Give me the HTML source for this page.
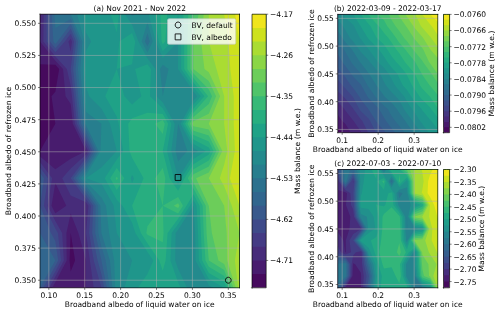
<!DOCTYPE html>
<html><head><meta charset="utf-8"><title>figure</title>
<style>html,body{margin:0;padding:0;background:#fff}svg{display:block}</style></head>
<body>
<svg width="500" height="314" viewBox="0 0 666.6667 406.4725" preserveAspectRatio="none">
 
 <defs>
  <style type="text/css">*{stroke-linejoin: round; stroke-linecap: butt}</style>
 </defs>
 <g id="figure_1">
  <g id="patch_1">
   <path d="M 0 406.472492 
L 666.666667 406.472492 
L 666.666667 0 
L 0 0 
z
" style="fill: #ffffff"/>
  </g>
  <g id="axes_1">
   <g id="patch_2">
    <path d="M 53.333333 372.556634 
L 319.333333 372.556634 
L 319.333333 18.381877 
L 53.333333 18.381877 
z
" style="fill: #ffffff"/>
   </g>
   <g id="patch_3">
    <path d="M 53.333333 372.556634 
L 319.333333 372.556634 
L 319.333333 18.381877 
L 53.333333 18.381877 
z
" clip-path="url(#p54d6a485ec)" style="fill: #460a5d"/>
   </g>
   <g id="QuadContourSet_1">
    <path d="M 73.794872 18.381877 
L 94.25641 18.381877 
L 114.717949 18.381877 
L 135.179487 18.381877 
L 155.641026 18.381877 
L 176.102564 18.381877 
L 196.564103 18.381877 
L 217.025641 18.381877 
L 237.487179 18.381877 
L 257.948718 18.381877 
L 278.410256 18.381877 
L 298.871795 18.381877 
L 319.333333 18.381877 
L 319.333333 53.799353 
L 319.333333 89.216828 
L 319.333333 124.634304 
L 319.333333 160.05178 
L 319.333333 195.469256 
L 319.333333 230.886731 
L 319.333333 266.304207 
L 319.333333 301.721683 
L 319.333333 337.139159 
L 319.333333 372.556634 
L 298.871795 372.556634 
L 278.410256 372.556634 
L 257.948718 372.556634 
L 237.487179 372.556634 
L 217.025641 372.556634 
L 196.564103 372.556634 
L 176.102564 372.556634 
L 155.641026 372.556634 
L 135.179487 372.556634 
L 114.717949 372.556634 
L 94.25641 372.556634 
L 73.794872 372.556634 
L 53.333333 372.556634 
L 53.333333 337.139159 
L 53.333333 301.721683 
L 53.333333 266.304207 
L 53.333333 230.886731 
L 53.333333 195.469256 
L 53.333333 195.469256 
L 73.794872 160.05178 
L 68.679487 124.634304 
L 73.794872 118.731391 
L 78.910256 89.216828 
L 73.794872 83.850544 
L 53.333333 83.313916 
L 53.333333 53.799353 
L 53.333333 18.381877 
z
M 92.740741 337.139159 
L 94.25641 351.306149 
L 100.102564 337.139159 
L 94.25641 301.721683 
z
" clip-path="url(#p54d6a485ec)" style="fill: #481c6e"/>
   </g>
   <g id="QuadContourSet_2">
    <path d="M 73.794872 18.381877 
L 94.25641 18.381877 
L 114.717949 18.381877 
L 135.179487 18.381877 
L 155.641026 18.381877 
L 176.102564 18.381877 
L 196.564103 18.381877 
L 217.025641 18.381877 
L 237.487179 18.381877 
L 257.948718 18.381877 
L 278.410256 18.381877 
L 298.871795 18.381877 
L 319.333333 18.381877 
L 319.333333 53.799353 
L 319.333333 89.216828 
L 319.333333 124.634304 
L 319.333333 160.05178 
L 319.333333 195.469256 
L 319.333333 230.886731 
L 319.333333 266.304207 
L 319.333333 301.721683 
L 319.333333 337.139159 
L 319.333333 372.556634 
L 298.871795 372.556634 
L 278.410256 372.556634 
L 257.948718 372.556634 
L 237.487179 372.556634 
L 217.025641 372.556634 
L 196.564103 372.556634 
L 176.102564 372.556634 
L 155.641026 372.556634 
L 135.179487 372.556634 
L 114.717949 372.556634 
L 114.717949 337.139159 
L 114.717949 337.139159 
L 104.487179 301.721683 
L 94.25641 276.423486 
L 88.57265 301.721683 
L 88.951567 337.139159 
L 73.794872 365.473139 
L 69.702564 372.556634 
L 53.333333 372.556634 
L 53.333333 337.139159 
L 53.333333 301.721683 
L 53.333333 266.304207 
L 53.333333 230.886731 
L 53.333333 202.552751 
L 73.794872 219.080906 
L 94.25641 205.588534 
L 114.717949 195.469256 
L 114.717949 195.469256 
L 114.717949 195.469256 
L 97.021483 160.05178 
L 94.25641 134.753583 
L 87.435897 124.634304 
L 84.025641 89.216828 
L 73.794872 78.48426 
L 53.333333 53.799353 
L 54.744474 18.381877 
z
M 68.679487 266.304207 
L 73.794872 276.142395 
L 88.410256 266.304207 
L 73.794872 236.789644 
z
M 114.717949 266.304207 
L 114.717949 266.304207 
L 114.717949 266.304207 
L 114.717949 266.304207 
z
" clip-path="url(#p54d6a485ec)" style="fill: #472c7a"/>
   </g>
   <g id="QuadContourSet_3">
    <path d="M 73.794872 18.381877 
L 94.25641 18.381877 
L 114.717949 18.381877 
L 135.179487 18.381877 
L 155.641026 18.381877 
L 176.102564 18.381877 
L 196.564103 18.381877 
L 217.025641 18.381877 
L 237.487179 18.381877 
L 257.948718 18.381877 
L 278.410256 18.381877 
L 298.871795 18.381877 
L 319.333333 18.381877 
L 319.333333 53.799353 
L 319.333333 89.216828 
L 319.333333 124.634304 
L 319.333333 160.05178 
L 319.333333 195.469256 
L 319.333333 230.886731 
L 319.333333 266.304207 
L 319.333333 301.721683 
L 319.333333 337.139159 
L 319.333333 372.556634 
L 298.871795 372.556634 
L 278.410256 372.556634 
L 257.948718 372.556634 
L 237.487179 372.556634 
L 217.025641 372.556634 
L 196.564103 372.556634 
L 176.102564 372.556634 
L 155.641026 372.556634 
L 135.179487 372.556634 
L 124.948718 372.556634 
L 119.833333 337.139159 
L 114.717949 301.721683 
L 117.915064 266.304207 
L 114.717949 261.877023 
L 94.25641 253.022654 
L 82.888889 230.886731 
L 94.25641 218.237633 
L 114.717949 199.89644 
L 117.483021 195.469256 
L 114.717949 189.935275 
L 99.786556 160.05178 
L 95.915454 124.634304 
L 94.25641 111.352751 
L 89.141026 89.216828 
L 73.794872 73.117976 
L 57.781494 53.799353 
L 58.272325 18.381877 
z
M 91.333333 53.799353 
L 94.25641 67.080906 
L 95.915454 53.799353 
L 94.25641 50.004623 
z
M 69.487179 230.886731 
L 63.564103 266.304207 
L 73.794872 285.980583 
L 82.888889 301.721683 
L 85.162393 337.139159 
L 73.794872 358.389644 
L 65.610256 372.556634 
L 53.333333 372.556634 
L 53.333333 337.139159 
L 53.333333 301.721683 
L 53.333333 266.304207 
L 53.333333 230.886731 
L 53.333333 209.636246 
z
" clip-path="url(#p54d6a485ec)" style="fill: #443b84"/>
   </g>
   <g id="QuadContourSet_4">
    <path d="M 73.794872 18.381877 
L 94.25641 18.381877 
L 114.717949 18.381877 
L 135.179487 18.381877 
L 155.641026 18.381877 
L 176.102564 18.381877 
L 196.564103 18.381877 
L 217.025641 18.381877 
L 237.487179 18.381877 
L 257.948718 18.381877 
L 278.410256 18.381877 
L 298.871795 18.381877 
L 319.333333 18.381877 
L 319.333333 53.799353 
L 319.333333 89.216828 
L 319.333333 124.634304 
L 319.333333 160.05178 
L 319.333333 195.469256 
L 319.333333 230.886731 
L 319.333333 266.304207 
L 319.333333 301.721683 
L 319.333333 337.139159 
L 319.333333 372.556634 
L 298.871795 372.556634 
L 278.410256 372.556634 
L 257.948718 372.556634 
L 237.487179 372.556634 
L 217.025641 372.556634 
L 196.564103 372.556634 
L 176.102564 372.556634 
L 155.641026 372.556634 
L 135.179487 372.556634 
L 135.179487 372.556634 
L 124.948718 337.139159 
L 118.810256 301.721683 
L 121.112179 266.304207 
L 114.717949 257.449838 
L 94.25641 230.886731 
L 94.25641 230.886731 
L 94.25641 230.886731 
L 114.717949 204.323625 
L 120.248094 195.469256 
L 114.717949 184.401294 
L 102.551629 160.05178 
L 98.680527 124.634304 
L 94.25641 89.216828 
L 94.25641 89.216828 
L 94.25641 89.216828 
L 98.680527 53.799353 
L 94.25641 43.680074 
L 86.461538 53.799353 
L 73.794872 67.751692 
L 62.229654 53.799353 
L 61.800177 18.381877 
z
M 64.102564 230.886731 
L 58.448718 266.304207 
L 73.794872 295.81877 
L 77.205128 301.721683 
L 81.373219 337.139159 
L 73.794872 351.306149 
L 61.517949 372.556634 
L 53.333333 372.556634 
L 53.333333 337.139159 
L 53.333333 301.721683 
L 53.333333 266.304207 
L 53.333333 230.886731 
L 53.333333 216.719741 
z
" clip-path="url(#p54d6a485ec)" style="fill: #3e4a89"/>
   </g>
   <g id="QuadContourSet_5">
    <path d="M 73.794872 18.381877 
L 94.25641 18.381877 
L 114.717949 18.381877 
L 135.179487 18.381877 
L 155.641026 18.381877 
L 176.102564 18.381877 
L 196.564103 18.381877 
L 217.025641 18.381877 
L 237.487179 18.381877 
L 257.948718 18.381877 
L 278.410256 18.381877 
L 298.871795 18.381877 
L 319.333333 18.381877 
L 319.333333 53.799353 
L 319.333333 89.216828 
L 319.333333 124.634304 
L 319.333333 160.05178 
L 319.333333 195.469256 
L 319.333333 230.886731 
L 319.333333 266.304207 
L 319.333333 301.721683 
L 319.333333 337.139159 
L 319.333333 372.556634 
L 298.871795 372.556634 
L 278.410256 372.556634 
L 257.948718 372.556634 
L 237.487179 372.556634 
L 217.025641 372.556634 
L 196.564103 372.556634 
L 176.102564 372.556634 
L 155.641026 372.556634 
L 138.833333 372.556634 
L 135.179487 354.847896 
L 130.064103 337.139159 
L 122.902564 301.721683 
L 124.309295 266.304207 
L 114.717949 253.022654 
L 97.666667 230.886731 
L 114.717949 208.750809 
L 123.013167 195.469256 
L 114.717949 178.867314 
L 105.316701 160.05178 
L 101.445599 124.634304 
L 97.453526 89.216828 
L 101.445599 53.799353 
L 94.25641 37.355525 
L 81.589744 53.799353 
L 73.794872 62.385408 
L 66.677815 53.799353 
L 65.328028 18.381877 
z
M 58.717949 230.886731 
L 53.333333 266.304207 
L 67.948718 301.721683 
L 73.794872 311.840962 
L 77.584046 337.139159 
L 73.794872 344.222654 
L 57.425641 372.556634 
L 53.333333 372.556634 
L 53.333333 337.139159 
L 53.333333 301.721683 
L 53.333333 266.304207 
L 53.333333 230.886731 
L 53.333333 223.803236 
z
" clip-path="url(#p54d6a485ec)" style="fill: #38598c"/>
   </g>
   <g id="QuadContourSet_6">
    <path d="M 73.794872 18.381877 
L 94.25641 18.381877 
L 114.717949 18.381877 
L 135.179487 18.381877 
L 155.641026 18.381877 
L 176.102564 18.381877 
L 196.564103 18.381877 
L 217.025641 18.381877 
L 237.487179 18.381877 
L 257.948718 18.381877 
L 278.410256 18.381877 
L 298.871795 18.381877 
L 319.333333 18.381877 
L 319.333333 53.799353 
L 319.333333 89.216828 
L 319.333333 124.634304 
L 319.333333 160.05178 
L 319.333333 195.469256 
L 319.333333 230.886731 
L 319.333333 266.304207 
L 319.333333 301.721683 
L 319.333333 337.139159 
L 319.333333 372.556634 
L 298.871795 372.556634 
L 278.410256 372.556634 
L 257.948718 372.556634 
L 237.487179 372.556634 
L 217.025641 372.556634 
L 196.564103 372.556634 
L 176.102564 372.556634 
L 155.641026 372.556634 
L 142.487179 372.556634 
L 135.179487 337.139159 
L 135.179487 337.139159 
L 126.994872 301.721683 
L 127.50641 266.304207 
L 114.717949 248.595469 
L 101.076923 230.886731 
L 114.717949 213.177994 
L 125.77824 195.469256 
L 114.717949 173.333333 
L 108.081774 160.05178 
L 104.210672 124.634304 
L 100.650641 89.216828 
L 104.210672 53.799353 
L 94.25641 31.030975 
L 76.717949 53.799353 
L 73.794872 57.019123 
L 71.125975 53.799353 
L 68.85588 18.381877 
z
M 73.794872 337.139159 
L 53.333333 372.556634 
L 53.333333 337.139159 
L 53.333333 301.721683 
z
" clip-path="url(#p54d6a485ec)" style="fill: #31668e"/>
   </g>
   <g id="QuadContourSet_7">
    <path d="M 73.794872 18.381877 
L 94.25641 18.381877 
L 114.717949 18.381877 
L 135.179487 18.381877 
L 155.641026 18.381877 
L 176.102564 18.381877 
L 196.564103 18.381877 
L 217.025641 18.381877 
L 237.487179 18.381877 
L 257.948718 18.381877 
L 278.410256 18.381877 
L 298.871795 18.381877 
L 319.333333 18.381877 
L 319.333333 53.799353 
L 319.333333 89.216828 
L 319.333333 124.634304 
L 319.333333 160.05178 
L 319.333333 195.469256 
L 319.333333 230.886731 
L 319.333333 266.304207 
L 319.333333 301.721683 
L 319.333333 337.139159 
L 319.333333 372.556634 
L 298.871795 372.556634 
L 278.410256 372.556634 
L 257.948718 372.556634 
L 237.487179 372.556634 
L 217.025641 372.556634 
L 196.564103 372.556634 
L 176.102564 372.556634 
L 155.641026 372.556634 
L 146.141026 372.556634 
L 140.863248 337.139159 
L 135.179487 319.430421 
L 131.087179 301.721683 
L 130.703526 266.304207 
L 114.717949 244.168285 
L 104.487179 230.886731 
L 114.717949 217.605178 
L 128.543313 195.469256 
L 114.717949 167.799353 
L 110.846847 160.05178 
L 106.975745 124.634304 
L 103.847756 89.216828 
L 106.975745 53.799353 
L 94.25641 24.706426 
L 73.794872 36.090615 
L 72.383731 18.381877 
z
" clip-path="url(#p54d6a485ec)" style="fill: #2c718e"/>
   </g>
   <g id="QuadContourSet_8">
    <path d="M 94.25641 18.381877 
L 114.717949 18.381877 
L 135.179487 18.381877 
L 155.641026 18.381877 
L 176.102564 18.381877 
L 196.564103 18.381877 
L 217.025641 18.381877 
L 237.487179 18.381877 
L 257.948718 18.381877 
L 278.410256 18.381877 
L 298.871795 18.381877 
L 319.333333 18.381877 
L 319.333333 53.799353 
L 319.333333 89.216828 
L 319.333333 124.634304 
L 319.333333 160.05178 
L 319.333333 195.469256 
L 319.333333 230.886731 
L 319.333333 266.304207 
L 319.333333 301.721683 
L 319.333333 337.139159 
L 319.333333 372.556634 
L 298.871795 372.556634 
L 278.410256 372.556634 
L 257.948718 372.556634 
L 237.487179 372.556634 
L 217.025641 372.556634 
L 196.564103 372.556634 
L 176.102564 372.556634 
L 155.641026 372.556634 
L 149.794872 372.556634 
L 146.547009 337.139159 
L 135.179487 301.721683 
L 135.179487 301.721683 
L 133.900641 266.304207 
L 114.717949 239.7411 
L 107.897436 230.886731 
L 114.717949 222.032362 
L 131.308385 195.469256 
L 114.717949 162.265372 
L 113.61192 160.05178 
L 109.740818 124.634304 
L 107.044872 89.216828 
L 109.740818 53.799353 
L 94.25641 18.381877 
L 94.25641 18.381877 
z
M 193.153846 53.799353 
L 196.564103 59.958914 
L 199.712032 53.799353 
L 196.564103 42.901668 
z
" clip-path="url(#p54d6a485ec)" style="fill: #277e8e"/>
   </g>
   <g id="QuadContourSet_9">
    <path d="M 114.717949 18.381877 
L 135.179487 18.381877 
L 155.641026 18.381877 
L 174.5286 18.381877 
L 176.102564 20.595469 
L 180.194872 18.381877 
L 196.564103 18.381877 
L 217.025641 18.381877 
L 237.487179 18.381877 
L 257.948718 18.381877 
L 278.410256 18.381877 
L 298.871795 18.381877 
L 319.333333 18.381877 
L 319.333333 53.799353 
L 319.333333 89.216828 
L 319.333333 124.634304 
L 319.333333 160.05178 
L 319.333333 195.469256 
L 319.333333 230.886731 
L 319.333333 266.304207 
L 319.333333 301.721683 
L 319.333333 337.139159 
L 319.333333 372.556634 
L 298.871795 372.556634 
L 278.410256 372.556634 
L 257.948718 372.556634 
L 257.948718 372.556634 
L 257.948718 372.556634 
L 237.487179 372.556634 
L 217.025641 372.556634 
L 196.564103 372.556634 
L 176.102564 372.556634 
L 155.641026 372.556634 
L 153.448718 372.556634 
L 152.230769 337.139159 
L 145.410256 301.721683 
L 141.317949 266.304207 
L 135.179487 255.678964 
L 114.717949 235.313916 
L 111.307692 230.886731 
L 114.717949 226.459547 
L 134.073458 195.469256 
L 135.179487 160.05178 
L 135.179487 160.05178 
L 135.179487 160.05178 
L 114.717949 144.872862 
L 112.505891 124.634304 
L 110.241987 89.216828 
L 112.505891 53.799353 
L 102.782051 18.381877 
z
M 188.891026 53.799353 
L 196.564103 67.658365 
L 203.646943 53.799353 
L 196.564103 29.279562 
z
M 213.414781 89.216828 
L 217.025641 124.634304 
L 217.025641 124.634304 
L 217.025641 124.634304 
L 224.698718 89.216828 
L 217.025641 83.904207 
z
M 257.948718 124.634304 
L 257.948718 124.634304 
L 257.948718 124.634304 
L 257.948718 124.634304 
z
M 237.487179 160.05178 
L 234.076923 195.469256 
L 237.487179 208.750809 
L 249.764103 195.469256 
L 237.487179 160.05178 
L 237.487179 160.05178 
z
" clip-path="url(#p54d6a485ec)" style="fill: #238a8d"/>
   </g>
   <g id="QuadContourSet_10">
    <path d="M 114.717949 18.381877 
L 135.179487 18.381877 
L 155.641026 18.381877 
L 166.658777 18.381877 
L 176.102564 31.66343 
L 184.628205 53.799353 
L 196.564103 75.357816 
L 207.396682 89.216828 
L 208.5 124.634304 
L 217.025641 132.333755 
L 233.039019 160.05178 
L 228.393162 195.469256 
L 237.487179 230.886731 
L 237.487179 230.886731 
L 237.487179 230.886731 
L 257.948718 199.404531 
L 264.087179 195.469256 
L 257.948718 192.041758 
L 240.587413 160.05178 
L 257.948718 130.000588 
L 262.820513 124.634304 
L 257.948718 118.731392 
L 237.487179 89.216828 
L 237.487179 53.799353 
L 237.487179 53.799353 
L 237.487179 53.799353 
L 217.025641 75.049838 
L 207.581854 53.799353 
L 198.138067 18.381877 
L 217.025641 18.381877 
L 237.487179 18.381877 
L 257.948718 18.381877 
L 278.410256 18.381877 
L 298.871795 18.381877 
L 319.333333 18.381877 
L 319.333333 53.799353 
L 319.333333 89.216828 
L 319.333333 124.634304 
L 319.333333 160.05178 
L 319.333333 195.469256 
L 319.333333 230.886731 
L 319.333333 266.304207 
L 319.333333 301.721683 
L 319.333333 337.139159 
L 319.333333 372.556634 
L 298.871795 372.556634 
L 284.25641 372.556634 
L 278.410256 369.336864 
L 260.617614 337.139159 
L 260.222222 301.721683 
L 257.948718 266.304207 
L 257.948718 266.304207 
L 257.948718 266.304207 
L 237.487179 297.471586 
L 234.25641 301.721683 
L 233.650641 337.139159 
L 237.487179 347.764401 
L 249.423077 372.556634 
L 237.487179 372.556634 
L 217.025641 372.556634 
L 196.564103 372.556634 
L 176.102564 372.556634 
L 165.871795 372.556634 
L 176.102564 337.139159 
L 196.564103 337.139159 
L 196.564103 337.139159 
L 196.564103 337.139159 
L 176.102564 337.139159 
L 155.641026 301.721683 
L 155.641026 301.721683 
L 151.548718 266.304207 
L 135.179487 237.970227 
L 114.717949 230.886731 
L 135.179487 216.719741 
L 155.641026 195.469256 
L 155.641026 195.469256 
L 155.641026 195.469256 
L 146.547009 160.05178 
L 135.179487 140.375405 
L 118.810256 124.634304 
L 114.717949 112.828479 
L 113.439103 89.216828 
L 114.717949 65.605178 
L 121.538462 53.799353 
L 114.717949 41.993528 
L 111.307692 18.381877 
z
" clip-path="url(#p54d6a485ec)" style="fill: #1f968b"/>
   </g>
   <g id="QuadContourSet_11">
    <path d="M 155.641026 18.381877 
L 158.788955 18.381877 
L 155.641026 41.993528 
L 147.45641 18.381877 
z
M 176.102564 42.731392 
L 180.365385 53.799353 
L 176.102564 83.313916 
L 155.641026 89.216828 
L 165.871795 124.634304 
L 176.102564 135.259547 
L 188.379487 124.634304 
L 180.194872 89.216828 
L 196.564103 83.057267 
L 201.378582 89.216828 
L 199.974359 124.634304 
L 217.025641 140.033207 
L 228.590858 160.05178 
L 222.709402 195.469256 
L 231.803419 230.886731 
L 237.487179 238.936158 
L 241.75 230.886731 
L 257.948718 205.963323 
L 274.317949 195.469256 
L 257.948718 186.329262 
L 243.687646 160.05178 
L 257.948718 135.366873 
L 267.692308 124.634304 
L 257.948718 112.828479 
L 241.579487 89.216828 
L 241.579487 53.799353 
L 237.487179 18.381877 
L 228.961538 53.799353 
L 217.025641 66.195469 
L 211.516765 53.799353 
L 206.00789 18.381877 
L 217.025641 18.381877 
L 237.487179 18.381877 
L 257.948718 18.381877 
L 278.410256 18.381877 
L 298.871795 18.381877 
L 319.333333 18.381877 
L 319.333333 53.799353 
L 319.333333 89.216828 
L 319.333333 124.634304 
L 319.333333 160.05178 
L 319.333333 195.469256 
L 319.333333 230.886731 
L 319.333333 266.304207 
L 319.333333 301.721683 
L 319.333333 337.139159 
L 319.333333 372.556634 
L 298.871795 372.556634 
L 298.871795 372.556634 
L 278.410256 361.287437 
L 265.065775 337.139159 
L 264.011396 301.721683 
L 262.041026 266.304207 
L 257.948718 258.925566 
L 253.298368 266.304207 
L 237.487179 290.388091 
L 228.871795 301.721683 
L 227.25641 337.139159 
L 237.487179 365.473139 
L 240.897436 372.556634 
L 237.487179 372.556634 
L 217.025641 372.556634 
L 196.564103 372.556634 
L 183.775641 372.556634 
L 196.564103 354.847896 
L 204.433925 337.139159 
L 196.564103 326.071197 
L 180.487179 301.721683 
L 176.102564 288.440129 
L 163.314103 266.304207 
L 155.641026 258.714748 
L 139.564103 230.886731 
L 155.641026 206.537217 
L 164.166667 195.469256 
L 158.198718 160.05178 
L 155.641026 151.197411 
L 140.294872 124.634304 
L 155.641026 89.216828 
L 155.641026 89.216828 
L 159.051282 53.799353 
z
M 174.397436 230.886731 
L 176.102564 236.789644 
L 178.660256 230.886731 
L 176.102564 226.459547 
z
" clip-path="url(#p54d6a485ec)" style="fill: #1fa287"/>
   </g>
   <g id="QuadContourSet_12">
    <path d="M 217.025641 18.381877 
L 222.871795 18.381877 
L 220.435897 53.799353 
L 217.025641 57.3411 
L 215.451677 53.799353 
L 213.877712 18.381877 
z
M 257.948718 18.381877 
L 278.410256 18.381877 
L 298.871795 18.381877 
L 319.333333 18.381877 
L 319.333333 53.799353 
L 319.333333 89.216828 
L 319.333333 124.634304 
L 319.333333 160.05178 
L 319.333333 195.469256 
L 319.333333 230.886731 
L 319.333333 266.304207 
L 319.333333 301.721683 
L 319.333333 337.139159 
L 319.333333 372.556634 
L 301.972028 372.556634 
L 298.871795 364.857183 
L 278.410256 353.238011 
L 269.513935 337.139159 
L 267.80057 301.721683 
L 266.133333 266.304207 
L 257.948718 251.546926 
L 248.648019 266.304207 
L 237.487179 283.304595 
L 223.487179 301.721683 
L 220.862179 337.139159 
L 217.025641 350.420712 
L 212.303748 337.139159 
L 196.564103 315.003236 
L 187.794872 301.721683 
L 176.102564 266.304207 
L 191.448718 230.886731 
L 176.102564 204.323625 
L 172.692308 195.469256 
L 170.987179 160.05178 
L 176.102564 152.968285 
L 196.564103 145.88479 
L 217.025641 147.732658 
L 224.142698 160.05178 
L 217.025641 195.469256 
L 217.025641 195.469256 
L 217.025641 195.469256 
L 226.119658 230.886731 
L 237.487179 246.985584 
L 246.012821 230.886731 
L 257.948718 212.522114 
L 278.410256 200.088926 
L 280.771203 195.469256 
L 278.410256 190.849585 
L 257.948718 180.616766 
L 246.787879 160.05178 
L 257.948718 140.733157 
L 272.564103 124.634304 
L 257.948718 106.925566 
L 245.671795 89.216828 
L 245.671795 53.799353 
L 244.307692 18.381877 
z
M 155.641026 217.605178 
L 165.871795 230.886731 
L 155.641026 246.06565 
L 146.871795 230.886731 
z
" clip-path="url(#p54d6a485ec)" style="fill: #28ae80"/>
   </g>
   <g id="QuadContourSet_13">
    <path d="M 257.948718 18.381877 
L 278.410256 18.381877 
L 298.871795 18.381877 
L 319.333333 18.381877 
L 319.333333 53.799353 
L 319.333333 89.216828 
L 319.333333 124.634304 
L 319.333333 160.05178 
L 319.333333 195.469256 
L 319.333333 230.886731 
L 319.333333 266.304207 
L 319.333333 301.721683 
L 319.333333 337.139159 
L 319.333333 372.556634 
L 305.072261 372.556634 
L 298.871795 357.157732 
L 278.410256 345.188585 
L 273.962096 337.139159 
L 271.589744 301.721683 
L 270.225641 266.304207 
L 257.948718 244.168285 
L 250.275641 230.886731 
L 257.948718 219.080906 
L 278.410256 207.788378 
L 284.706114 195.469256 
L 278.410256 183.150134 
L 257.948718 174.90427 
L 249.888112 160.05178 
L 257.948718 146.099441 
L 277.435897 124.634304 
L 257.948718 101.022654 
L 249.764103 89.216828 
L 249.764103 53.799353 
L 251.128205 18.381877 
z
M 217.025641 155.432109 
L 219.694537 160.05178 
L 217.025641 173.333333 
L 206.794872 160.05178 
z
M 155.641026 228.673139 
L 157.346154 230.886731 
L 155.641026 233.416551 
L 154.179487 230.886731 
z
M 217.025641 217.605178 
L 220.435897 230.886731 
L 217.025641 266.304207 
L 206.794872 230.886731 
z
M 237.487179 255.03501 
L 243.997669 266.304207 
L 237.487179 276.2211 
L 217.025641 266.304207 
z
M 196.564103 292.867314 
L 217.025641 266.304207 
L 218.102564 301.721683 
L 217.025641 313.527508 
L 196.564103 303.935275 
L 195.102564 301.721683 
z
" clip-path="url(#p54d6a485ec)" style="fill: #38b977"/>
   </g>
   <g id="QuadContourSet_14">
    <path d="M 257.948718 18.381877 
L 257.948718 18.381877 
L 278.410256 18.381877 
L 298.871795 18.381877 
L 319.333333 18.381877 
L 319.333333 53.799353 
L 319.333333 89.216828 
L 319.333333 124.634304 
L 319.333333 160.05178 
L 319.333333 195.469256 
L 319.333333 230.886731 
L 319.333333 266.304207 
L 319.333333 301.721683 
L 319.333333 337.139159 
L 319.333333 372.556634 
L 308.172494 372.556634 
L 298.871795 349.458281 
L 278.410256 337.139159 
L 278.410256 337.139159 
L 275.378917 301.721683 
L 274.317949 266.304207 
L 257.948718 236.789644 
L 254.538462 230.886731 
L 257.948718 225.639698 
L 278.410256 215.487829 
L 288.641026 195.469256 
L 278.410256 175.450682 
L 257.948718 169.191774 
L 252.988345 160.05178 
L 257.948718 151.465725 
L 278.410256 134.753583 
L 282.717949 124.634304 
L 278.410256 115.779935 
L 257.948718 95.119741 
L 253.85641 89.216828 
L 253.85641 53.799353 
z
M 237.487179 263.084437 
L 239.347319 266.304207 
L 237.487179 269.137605 
L 231.641026 266.304207 
z
" clip-path="url(#p54d6a485ec)" style="fill: #50c46a"/>
   </g>
   <g id="QuadContourSet_15">
    <path d="M 278.410256 18.381877 
L 298.871795 18.381877 
L 319.333333 18.381877 
L 319.333333 53.799353 
L 319.333333 89.216828 
L 319.333333 124.634304 
L 319.333333 160.05178 
L 319.333333 195.469256 
L 319.333333 230.886731 
L 319.333333 266.304207 
L 319.333333 301.721683 
L 319.333333 337.139159 
L 319.333333 372.556634 
L 311.272727 372.556634 
L 298.871795 341.758829 
L 291.198718 337.139159 
L 282.502564 301.721683 
L 278.410256 266.304207 
L 278.410256 266.304207 
L 261.358974 230.886731 
L 278.410256 223.18728 
L 292.575937 195.469256 
L 278.410256 167.751231 
L 257.948718 163.479278 
L 256.088578 160.05178 
L 257.948718 156.832009 
L 278.410256 147.402681 
L 288.102564 124.634304 
L 278.410256 104.711974 
L 257.948718 89.216828 
L 257.948718 53.799353 
L 264.769231 18.381877 
z
" clip-path="url(#p54d6a485ec)" style="fill: #6ccd5a"/>
   </g>
   <g id="QuadContourSet_16">
    <path d="M 278.410256 18.381877 
L 298.871795 18.381877 
L 319.333333 18.381877 
L 319.333333 53.799353 
L 319.333333 89.216828 
L 319.333333 124.634304 
L 319.333333 160.05178 
L 319.333333 195.469256 
L 319.333333 230.886731 
L 319.333333 266.304207 
L 319.333333 301.721683 
L 319.333333 337.139159 
L 319.333333 372.556634 
L 314.37296 372.556634 
L 302.964103 337.139159 
L 302.282051 301.721683 
L 298.871795 266.304207 
L 298.871795 266.304207 
L 278.410256 230.886731 
L 296.510848 195.469256 
L 278.410256 160.05178 
L 293.487179 124.634304 
L 278.410256 93.644013 
L 272.564103 89.216828 
L 268.179487 53.799353 
L 271.589744 18.381877 
z
" clip-path="url(#p54d6a485ec)" style="fill: #8bd646"/>
   </g>
   <g id="QuadContourSet_17">
    <path d="M 298.871795 18.381877 
L 319.333333 18.381877 
L 319.333333 53.799353 
L 319.333333 89.216828 
L 319.333333 124.634304 
L 319.333333 160.05178 
L 319.333333 195.469256 
L 319.333333 230.886731 
L 319.333333 266.304207 
L 319.333333 301.721683 
L 309.102564 266.304207 
L 298.871795 241.00601 
L 293.025641 230.886731 
L 298.871795 213.177994 
L 302.964103 195.469256 
L 298.871795 160.05178 
L 298.871795 124.634304 
L 298.871795 124.634304 
L 288.641026 89.216828 
L 278.410256 53.799353 
L 278.410256 18.381877 
z
M 319.333333 301.721683 
L 319.333333 337.139159 
L 319.333333 372.556634 
L 317.473193 372.556634 
L 313.194872 337.139159 
z
" clip-path="url(#p54d6a485ec)" style="fill: #aadc32"/>
   </g>
   <g id="QuadContourSet_18">
    <path d="M 298.871795 18.381877 
L 319.333333 18.381877 
L 319.333333 53.799353 
L 319.333333 89.216828 
L 319.333333 124.634304 
L 319.333333 160.05178 
L 319.333333 195.469256 
L 319.333333 230.886731 
L 319.333333 266.304207 
L 319.333333 266.304207 
L 319.333333 266.304207 
L 306.544872 230.886731 
L 313.194872 195.469256 
L 311.660256 160.05178 
L 311.660256 124.634304 
L 307.05641 89.216828 
L 304.717949 53.799353 
L 298.871795 18.381877 
L 298.871795 18.381877 
z
" clip-path="url(#p54d6a485ec)" style="fill: #cde11d"/>
   </g>
   <g id="QuadContourSet_19">
    <path d="M 319.333333 18.381877 
L 319.333333 53.799353 
L 313.487179 18.381877 
z
" clip-path="url(#p54d6a485ec)" style="fill: #efe51c"/>
   </g>
   <g id="matplotlib.axis_1">
    <g id="xtick_1">
     <g id="line2d_1">
      <path d="M 65.106633 372.556634 
L 65.106633 18.381877 
" clip-path="url(#p54d6a485ec)" style="fill: none; stroke: #b0b0b0; stroke-width: 0.65; stroke-linecap: square"/>
     </g>
     <g id="line2d_2">
      <defs>
       <path id="m6048d55edf" d="M 0 0 
L 0 2.7 
" style="stroke: #000000; stroke-width: 0.65"/>
      </defs>
      <g>
       <use href="#m6048d55edf" x="65.106633" y="372.556634" style="stroke: #000000; stroke-width: 0.65"/>
      </g>
     </g>
     <g id="text_1">
      <text style="font-size: 10px; font-family: 'DejaVu Sans', 'Liberation Sans', sans-serif; text-anchor: middle" x="65.106633" y="385.355072" transform="rotate(-0 65.106633 385.355072)">0.10</text>
     </g>
    </g>
    <g id="xtick_2">
     <g id="line2d_3">
      <path d="M 112.965575 372.556634 
L 112.965575 18.381877 
" clip-path="url(#p54d6a485ec)" style="fill: none; stroke: #b0b0b0; stroke-width: 0.65; stroke-linecap: square"/>
     </g>
     <g id="line2d_4">
      <g>
       <use href="#m6048d55edf" x="112.965575" y="372.556634" style="stroke: #000000; stroke-width: 0.65"/>
      </g>
     </g>
     <g id="text_2">
      <text style="font-size: 10px; font-family: 'DejaVu Sans', 'Liberation Sans', sans-serif; text-anchor: middle" x="112.965575" y="385.355072" transform="rotate(-0 112.965575 385.355072)">0.15</text>
     </g>
    </g>
    <g id="xtick_3">
     <g id="line2d_5">
      <path d="M 160.824517 372.556634 
L 160.824517 18.381877 
" clip-path="url(#p54d6a485ec)" style="fill: none; stroke: #b0b0b0; stroke-width: 0.65; stroke-linecap: square"/>
     </g>
     <g id="line2d_6">
      <g>
       <use href="#m6048d55edf" x="160.824517" y="372.556634" style="stroke: #000000; stroke-width: 0.65"/>
      </g>
     </g>
     <g id="text_3">
      <text style="font-size: 10px; font-family: 'DejaVu Sans', 'Liberation Sans', sans-serif; text-anchor: middle" x="160.824517" y="385.355072" transform="rotate(-0 160.824517 385.355072)">0.20</text>
     </g>
    </g>
    <g id="xtick_4">
     <g id="line2d_7">
      <path d="M 208.683459 372.556634 
L 208.683459 18.381877 
" clip-path="url(#p54d6a485ec)" style="fill: none; stroke: #b0b0b0; stroke-width: 0.65; stroke-linecap: square"/>
     </g>
     <g id="line2d_8">
      <g>
       <use href="#m6048d55edf" x="208.683459" y="372.556634" style="stroke: #000000; stroke-width: 0.65"/>
      </g>
     </g>
     <g id="text_4">
      <text style="font-size: 10px; font-family: 'DejaVu Sans', 'Liberation Sans', sans-serif; text-anchor: middle" x="208.683459" y="385.355072" transform="rotate(-0 208.683459 385.355072)">0.25</text>
     </g>
    </g>
    <g id="xtick_5">
     <g id="line2d_9">
      <path d="M 256.542401 372.556634 
L 256.542401 18.381877 
" clip-path="url(#p54d6a485ec)" style="fill: none; stroke: #b0b0b0; stroke-width: 0.65; stroke-linecap: square"/>
     </g>
     <g id="line2d_10">
      <g>
       <use href="#m6048d55edf" x="256.542401" y="372.556634" style="stroke: #000000; stroke-width: 0.65"/>
      </g>
     </g>
     <g id="text_5">
      <text style="font-size: 10px; font-family: 'DejaVu Sans', 'Liberation Sans', sans-serif; text-anchor: middle" x="256.542401" y="385.355072" transform="rotate(-0 256.542401 385.355072)">0.30</text>
     </g>
    </g>
    <g id="xtick_6">
     <g id="line2d_11">
      <path d="M 304.401343 372.556634 
L 304.401343 18.381877 
" clip-path="url(#p54d6a485ec)" style="fill: none; stroke: #b0b0b0; stroke-width: 0.65; stroke-linecap: square"/>
     </g>
     <g id="line2d_12">
      <g>
       <use href="#m6048d55edf" x="304.401343" y="372.556634" style="stroke: #000000; stroke-width: 0.65"/>
      </g>
     </g>
     <g id="text_6">
      <text style="font-size: 10px; font-family: 'DejaVu Sans', 'Liberation Sans', sans-serif; text-anchor: middle" x="304.401343" y="385.355072" transform="rotate(-0 304.401343 385.355072)">0.35</text>
     </g>
    </g>
    <g id="text_7">
     <text style="font-size: 10px; font-family: 'DejaVu Sans', 'Liberation Sans', sans-serif; text-anchor: middle" x="186.333333" y="398.033197" transform="rotate(-0 186.333333 398.033197)">Broadband albedo of liquid water on ice</text>
    </g>
   </g>
   <g id="matplotlib.axis_2">
    <g id="ytick_1">
     <g id="line2d_13">
      <path d="M 53.333333 362.74616 
L 319.333333 362.74616 
" clip-path="url(#p54d6a485ec)" style="fill: none; stroke: #b0b0b0; stroke-width: 0.65; stroke-linecap: square"/>
     </g>
     <g id="line2d_14">
      <defs>
       <path id="m1bb3ccd156" d="M 0 0 
L -2.7 0 
" style="stroke: #000000; stroke-width: 0.65"/>
      </defs>
      <g>
       <use href="#m1bb3ccd156" x="53.333333" y="362.74616" style="stroke: #000000; stroke-width: 0.65"/>
      </g>
     </g>
     <g id="text_8">
      <text style="font-size: 10px; font-family: 'DejaVu Sans', 'Liberation Sans', sans-serif; text-anchor: end" x="48.133333" y="366.545379" transform="rotate(-0 48.133333 366.545379)">0.350</text>
     </g>
    </g>
    <g id="ytick_2">
     <g id="line2d_15">
      <path d="M 53.333333 321.176353 
L 319.333333 321.176353 
" clip-path="url(#p54d6a485ec)" style="fill: none; stroke: #b0b0b0; stroke-width: 0.65; stroke-linecap: square"/>
     </g>
     <g id="line2d_16">
      <g>
       <use href="#m1bb3ccd156" x="53.333333" y="321.176353" style="stroke: #000000; stroke-width: 0.65"/>
      </g>
     </g>
     <g id="text_9">
      <text style="font-size: 10px; font-family: 'DejaVu Sans', 'Liberation Sans', sans-serif; text-anchor: end" x="48.133333" y="324.975571" transform="rotate(-0 48.133333 324.975571)">0.375</text>
     </g>
    </g>
    <g id="ytick_3">
     <g id="line2d_17">
      <path d="M 53.333333 279.606545 
L 319.333333 279.606545 
" clip-path="url(#p54d6a485ec)" style="fill: none; stroke: #b0b0b0; stroke-width: 0.65; stroke-linecap: square"/>
     </g>
     <g id="line2d_18">
      <g>
       <use href="#m1bb3ccd156" x="53.333333" y="279.606545" style="stroke: #000000; stroke-width: 0.65"/>
      </g>
     </g>
     <g id="text_10">
      <text style="font-size: 10px; font-family: 'DejaVu Sans', 'Liberation Sans', sans-serif; text-anchor: end" x="48.133333" y="283.405764" transform="rotate(-0 48.133333 283.405764)">0.400</text>
     </g>
    </g>
    <g id="ytick_4">
     <g id="line2d_19">
      <path d="M 53.333333 238.036738 
L 319.333333 238.036738 
" clip-path="url(#p54d6a485ec)" style="fill: none; stroke: #b0b0b0; stroke-width: 0.65; stroke-linecap: square"/>
     </g>
     <g id="line2d_20">
      <g>
       <use href="#m1bb3ccd156" x="53.333333" y="238.036738" style="stroke: #000000; stroke-width: 0.65"/>
      </g>
     </g>
     <g id="text_11">
      <text style="font-size: 10px; font-family: 'DejaVu Sans', 'Liberation Sans', sans-serif; text-anchor: end" x="48.133333" y="241.835957" transform="rotate(-0 48.133333 241.835957)">0.425</text>
     </g>
    </g>
    <g id="ytick_5">
     <g id="line2d_21">
      <path d="M 53.333333 196.466931 
L 319.333333 196.466931 
" clip-path="url(#p54d6a485ec)" style="fill: none; stroke: #b0b0b0; stroke-width: 0.65; stroke-linecap: square"/>
     </g>
     <g id="line2d_22">
      <g>
       <use href="#m1bb3ccd156" x="53.333333" y="196.466931" style="stroke: #000000; stroke-width: 0.65"/>
      </g>
     </g>
     <g id="text_12">
      <text style="font-size: 10px; font-family: 'DejaVu Sans', 'Liberation Sans', sans-serif; text-anchor: end" x="48.133333" y="200.26615" transform="rotate(-0 48.133333 200.26615)">0.450</text>
     </g>
    </g>
    <g id="ytick_6">
     <g id="line2d_23">
      <path d="M 53.333333 154.897124 
L 319.333333 154.897124 
" clip-path="url(#p54d6a485ec)" style="fill: none; stroke: #b0b0b0; stroke-width: 0.65; stroke-linecap: square"/>
     </g>
     <g id="line2d_24">
      <g>
       <use href="#m1bb3ccd156" x="53.333333" y="154.897124" style="stroke: #000000; stroke-width: 0.65"/>
      </g>
     </g>
     <g id="text_13">
      <text style="font-size: 10px; font-family: 'DejaVu Sans', 'Liberation Sans', sans-serif; text-anchor: end" x="48.133333" y="158.696343" transform="rotate(-0 48.133333 158.696343)">0.475</text>
     </g>
    </g>
    <g id="ytick_7">
     <g id="line2d_25">
      <path d="M 53.333333 113.327317 
L 319.333333 113.327317 
" clip-path="url(#p54d6a485ec)" style="fill: none; stroke: #b0b0b0; stroke-width: 0.65; stroke-linecap: square"/>
     </g>
     <g id="line2d_26">
      <g>
       <use href="#m1bb3ccd156" x="53.333333" y="113.327317" style="stroke: #000000; stroke-width: 0.65"/>
      </g>
     </g>
     <g id="text_14">
      <text style="font-size: 10px; font-family: 'DejaVu Sans', 'Liberation Sans', sans-serif; text-anchor: end" x="48.133333" y="117.126535" transform="rotate(-0 48.133333 117.126535)">0.500</text>
     </g>
    </g>
    <g id="ytick_8">
     <g id="line2d_27">
      <path d="M 53.333333 71.757509 
L 319.333333 71.757509 
" clip-path="url(#p54d6a485ec)" style="fill: none; stroke: #b0b0b0; stroke-width: 0.65; stroke-linecap: square"/>
     </g>
     <g id="line2d_28">
      <g>
       <use href="#m1bb3ccd156" x="53.333333" y="71.757509" style="stroke: #000000; stroke-width: 0.65"/>
      </g>
     </g>
     <g id="text_15">
      <text style="font-size: 10px; font-family: 'DejaVu Sans', 'Liberation Sans', sans-serif; text-anchor: end" x="48.133333" y="75.556728" transform="rotate(-0 48.133333 75.556728)">0.525</text>
     </g>
    </g>
    <g id="ytick_9">
     <g id="line2d_29">
      <path d="M 53.333333 30.187702 
L 319.333333 30.187702 
" clip-path="url(#p54d6a485ec)" style="fill: none; stroke: #b0b0b0; stroke-width: 0.65; stroke-linecap: square"/>
     </g>
     <g id="line2d_30">
      <g>
       <use href="#m1bb3ccd156" x="53.333333" y="30.187702" style="stroke: #000000; stroke-width: 0.65"/>
      </g>
     </g>
     <g id="text_16">
      <text style="font-size: 10px; font-family: 'DejaVu Sans', 'Liberation Sans', sans-serif; text-anchor: end" x="48.133333" y="33.986921" transform="rotate(-0 48.133333 33.986921)">0.550</text>
     </g>
    </g>
    <g id="text_17">
     <text style="font-size: 10px; font-family: 'DejaVu Sans', 'Liberation Sans', sans-serif; text-anchor: middle" x="14.425521" y="195.469256" transform="rotate(-90 14.425521 195.469256)">Broadband albedo of refrozen ice</text>
    </g>
   </g>
   <g id="line2d_31">
    <defs>
     <path id="mb7927415b8" d="M 0 3.85 
C 1.021032 3.85 2.000383 3.44434 2.722361 2.722361 
C 3.44434 2.000383 3.85 1.021032 3.85 0 
C 3.85 -1.021032 3.44434 -2.000383 2.722361 -2.722361 
C 2.000383 -3.44434 1.021032 -3.85 0 -3.85 
C -1.021032 -3.85 -2.000383 -3.44434 -2.722361 -2.722361 
C -3.44434 -2.000383 -3.85 -1.021032 -3.85 0 
C -3.85 1.021032 -3.44434 2.000383 -2.722361 2.722361 
C -2.000383 3.44434 -1.021032 3.85 0 3.85 
z
" style="stroke: #000000; stroke-width: 1.1"/>
    </defs>
    <g clip-path="url(#p54d6a485ec)">
     <use href="#mb7927415b8" x="304.401343" y="362.74616" style="fill-opacity: 0; stroke: #000000; stroke-width: 1.1"/>
    </g>
   </g>
   <g id="line2d_32">
    <defs>
     <path id="mb4222cccf7" d="M -3.85 3.85 
L 3.85 3.85 
L 3.85 -3.85 
L -3.85 -3.85 
z
" style="stroke: #000000; stroke-width: 1.1; stroke-linejoin: miter"/>
    </defs>
    <g clip-path="url(#p54d6a485ec)">
     <use href="#mb4222cccf7" x="237.398825" y="229.722777" style="fill-opacity: 0; stroke: #000000; stroke-width: 1.1; stroke-linejoin: miter"/>
    </g>
   </g>
   <g id="patch_4">
    <path d="M 53.333333 372.556634 
L 53.333333 18.381877 
" style="fill: none; stroke: #000000; stroke-width: 0.85; stroke-linejoin: miter; stroke-linecap: square"/>
   </g>
   <g id="patch_5">
    <path d="M 319.333333 372.556634 
L 319.333333 18.381877 
" style="fill: none; stroke: #000000; stroke-width: 0.85; stroke-linejoin: miter; stroke-linecap: square"/>
   </g>
   <g id="patch_6">
    <path d="M 53.333333 372.556634 
L 319.333333 372.556634 
" style="fill: none; stroke: #000000; stroke-width: 0.85; stroke-linejoin: miter; stroke-linecap: square"/>
   </g>
   <g id="patch_7">
    <path d="M 53.333333 18.381877 
L 319.333333 18.381877 
" style="fill: none; stroke: #000000; stroke-width: 0.85; stroke-linejoin: miter; stroke-linecap: square"/>
   </g>
   <g id="text_18">
    <text style="font-size: 10px; font-family: 'DejaVu Sans', 'Liberation Sans', sans-serif; text-anchor: middle" x="186.333333" y="14.081877" transform="rotate(-0 186.333333 14.081877)">(a) Nov 2021 - Nov 2022</text>
   </g>
   <g id="legend_1">
    <g id="patch_8">
     <path d="M 225.402083 57.323564 
L 312.333333 57.323564 
Q 314.333333 57.323564 314.333333 55.323564 
L 314.333333 26.267314 
Q 314.333333 24.267314 312.333333 24.267314 
L 225.402083 24.267314 
Q 223.402083 24.267314 223.402083 26.267314 
L 223.402083 55.323564 
Q 223.402083 57.323564 225.402083 57.323564 
z
" style="fill: #ffffff; opacity: 0.8; stroke: #cccccc; stroke-linejoin: miter"/>
    </g>
    <g id="line2d_33">
     <g>
      <use href="#mb7927415b8" x="237.402083" y="32.365751" style="fill-opacity: 0; stroke: #000000; stroke-width: 1.1"/>
     </g>
    </g>
    <g id="text_19">
     <text style="font-size: 10px; font-family: 'DejaVu Sans', 'Liberation Sans', sans-serif; text-anchor: start" x="255.402083" y="35.865751" transform="rotate(-0 255.402083 35.865751)">BV, default</text>
    </g>
    <g id="line2d_34">
     <g>
      <use href="#mb4222cccf7" x="237.402083" y="47.743876" style="fill-opacity: 0; stroke: #000000; stroke-width: 1.1; stroke-linejoin: miter"/>
     </g>
    </g>
    <g id="text_20">
     <text style="font-size: 10px; font-family: 'DejaVu Sans', 'Liberation Sans', sans-serif; text-anchor: start" x="255.402083" y="51.243876" transform="rotate(-0 255.402083 51.243876)">BV, albedo</text>
    </g>
   </g>
  </g>
  <g id="axes_2">
   <g id="patch_9">
    <path d="M 336 372.556634 
L 354.933333 372.556634 
L 354.933333 18.381877 
L 336 18.381877 
z
" style="fill: #ffffff"/>
   </g>
   <g id="patch_10">
    <path d="M 336 372.556634 
L 354.933333 372.556634 
L 354.933333 18.381877 
L 336 18.381877 
z
" clip-path="url(#pbba16efab5)" style="fill: #460a5d"/>
   </g>
   <g id="patch_11">
    <path d="M 336 354.847896 
L 354.933333 354.847896 
L 354.933333 18.381877 
L 336 18.381877 
z
" clip-path="url(#pbba16efab5)" style="fill: #481c6e"/>
   </g>
   <g id="patch_12">
    <path d="M 336 337.139159 
L 354.933333 337.139159 
L 354.933333 18.381877 
L 336 18.381877 
z
" clip-path="url(#pbba16efab5)" style="fill: #472c7a"/>
   </g>
   <g id="patch_13">
    <path d="M 336 319.430421 
L 354.933333 319.430421 
L 354.933333 18.381877 
L 336 18.381877 
z
" clip-path="url(#pbba16efab5)" style="fill: #443b84"/>
   </g>
   <g id="patch_14">
    <path d="M 336 301.721683 
L 354.933333 301.721683 
L 354.933333 18.381877 
L 336 18.381877 
z
" clip-path="url(#pbba16efab5)" style="fill: #3e4a89"/>
   </g>
   <g id="patch_15">
    <path d="M 336 284.012945 
L 354.933333 284.012945 
L 354.933333 18.381877 
L 336 18.381877 
z
" clip-path="url(#pbba16efab5)" style="fill: #38598c"/>
   </g>
   <g id="patch_16">
    <path d="M 336 266.304207 
L 354.933333 266.304207 
L 354.933333 18.381877 
L 336 18.381877 
z
" clip-path="url(#pbba16efab5)" style="fill: #31668e"/>
   </g>
   <g id="patch_17">
    <path d="M 336 248.595469 
L 354.933333 248.595469 
L 354.933333 18.381877 
L 336 18.381877 
z
" clip-path="url(#pbba16efab5)" style="fill: #2c718e"/>
   </g>
   <g id="patch_18">
    <path d="M 336 230.886731 
L 354.933333 230.886731 
L 354.933333 18.381877 
L 336 18.381877 
z
" clip-path="url(#pbba16efab5)" style="fill: #277e8e"/>
   </g>
   <g id="patch_19">
    <path d="M 336 213.177994 
L 354.933333 213.177994 
L 354.933333 18.381877 
L 336 18.381877 
z
" clip-path="url(#pbba16efab5)" style="fill: #238a8d"/>
   </g>
   <g id="patch_20">
    <path d="M 336 195.469256 
L 354.933333 195.469256 
L 354.933333 18.381877 
L 336 18.381877 
z
" clip-path="url(#pbba16efab5)" style="fill: #1f968b"/>
   </g>
   <g id="patch_21">
    <path d="M 336 177.760518 
L 354.933333 177.760518 
L 354.933333 18.381877 
L 336 18.381877 
z
" clip-path="url(#pbba16efab5)" style="fill: #1fa287"/>
   </g>
   <g id="patch_22">
    <path d="M 336 160.05178 
L 354.933333 160.05178 
L 354.933333 18.381877 
L 336 18.381877 
z
" clip-path="url(#pbba16efab5)" style="fill: #28ae80"/>
   </g>
   <g id="patch_23">
    <path d="M 336 142.343042 
L 354.933333 142.343042 
L 354.933333 18.381877 
L 336 18.381877 
z
" clip-path="url(#pbba16efab5)" style="fill: #38b977"/>
   </g>
   <g id="patch_24">
    <path d="M 336 124.634304 
L 354.933333 124.634304 
L 354.933333 18.381877 
L 336 18.381877 
z
" clip-path="url(#pbba16efab5)" style="fill: #50c46a"/>
   </g>
   <g id="patch_25">
    <path d="M 336 106.925566 
L 354.933333 106.925566 
L 354.933333 18.381877 
L 336 18.381877 
z
" clip-path="url(#pbba16efab5)" style="fill: #6ccd5a"/>
   </g>
   <g id="patch_26">
    <path d="M 336 89.216828 
L 354.933333 89.216828 
L 354.933333 18.381877 
L 336 18.381877 
z
" clip-path="url(#pbba16efab5)" style="fill: #8bd646"/>
   </g>
   <g id="patch_27">
    <path d="M 336 71.508091 
L 354.933333 71.508091 
L 354.933333 18.381877 
L 336 18.381877 
z
" clip-path="url(#pbba16efab5)" style="fill: #aadc32"/>
   </g>
   <g id="patch_28">
    <path d="M 336 53.799353 
L 354.933333 53.799353 
L 354.933333 18.381877 
L 336 18.381877 
z
" clip-path="url(#pbba16efab5)" style="fill: #cde11d"/>
   </g>
   <g id="patch_29">
    <path d="M 336 36.090615 
L 354.933333 36.090615 
L 354.933333 18.381877 
L 336 18.381877 
z
" clip-path="url(#pbba16efab5)" style="fill: #efe51c"/>
   </g>
   <g id="matplotlib.axis_3"/>
   <g id="matplotlib.axis_4">
    <g id="ytick_10">
     <g id="line2d_35">
      <defs>
       <path id="m32840a8728" d="M 0 0 
L 2.7 0 
" style="stroke: #000000; stroke-width: 0.65"/>
      </defs>
      <g>
       <use href="#m32840a8728" x="354.933333" y="337.139159" style="stroke: #000000; stroke-width: 0.65"/>
      </g>
     </g>
     <g id="text_21">
      <text style="font-size: 10px; font-family: 'DejaVu Sans', 'Liberation Sans', sans-serif; text-anchor: start" x="360.133333" y="340.938377" transform="rotate(-0 360.133333 340.938377)">−4.71</text>
     </g>
    </g>
    <g id="ytick_11">
     <g id="line2d_36">
      <g>
       <use href="#m32840a8728" x="354.933333" y="284.012945" style="stroke: #000000; stroke-width: 0.65"/>
      </g>
     </g>
     <g id="text_22">
      <text style="font-size: 10px; font-family: 'DejaVu Sans', 'Liberation Sans', sans-serif; text-anchor: start" x="360.133333" y="287.812164" transform="rotate(-0 360.133333 287.812164)">−4.62</text>
     </g>
    </g>
    <g id="ytick_12">
     <g id="line2d_37">
      <g>
       <use href="#m32840a8728" x="354.933333" y="230.886731" style="stroke: #000000; stroke-width: 0.65"/>
      </g>
     </g>
     <g id="text_23">
      <text style="font-size: 10px; font-family: 'DejaVu Sans', 'Liberation Sans', sans-serif; text-anchor: start" x="360.133333" y="234.68595" transform="rotate(-0 360.133333 234.68595)">−4.53</text>
     </g>
    </g>
    <g id="ytick_13">
     <g id="line2d_38">
      <g>
       <use href="#m32840a8728" x="354.933333" y="177.760518" style="stroke: #000000; stroke-width: 0.65"/>
      </g>
     </g>
     <g id="text_24">
      <text style="font-size: 10px; font-family: 'DejaVu Sans', 'Liberation Sans', sans-serif; text-anchor: start" x="360.133333" y="181.559737" transform="rotate(-0 360.133333 181.559737)">−4.44</text>
     </g>
    </g>
    <g id="ytick_14">
     <g id="line2d_39">
      <g>
       <use href="#m32840a8728" x="354.933333" y="124.634304" style="stroke: #000000; stroke-width: 0.65"/>
      </g>
     </g>
     <g id="text_25">
      <text style="font-size: 10px; font-family: 'DejaVu Sans', 'Liberation Sans', sans-serif; text-anchor: start" x="360.133333" y="128.433523" transform="rotate(-0 360.133333 128.433523)">−4.35</text>
     </g>
    </g>
    <g id="ytick_15">
     <g id="line2d_40">
      <g>
       <use href="#m32840a8728" x="354.933333" y="71.508091" style="stroke: #000000; stroke-width: 0.65"/>
      </g>
     </g>
     <g id="text_26">
      <text style="font-size: 10px; font-family: 'DejaVu Sans', 'Liberation Sans', sans-serif; text-anchor: start" x="360.133333" y="75.307309" transform="rotate(-0 360.133333 75.307309)">−4.26</text>
     </g>
    </g>
    <g id="ytick_16">
     <g id="line2d_41">
      <g>
       <use href="#m32840a8728" x="354.933333" y="18.381877" style="stroke: #000000; stroke-width: 0.65"/>
      </g>
     </g>
     <g id="text_27">
      <text style="font-size: 10px; font-family: 'DejaVu Sans', 'Liberation Sans', sans-serif; text-anchor: start" x="360.133333" y="22.181096" transform="rotate(-0 360.133333 22.181096)">−4.17</text>
     </g>
    </g>
    <g id="text_28">
     <text style="font-size: 10px; font-family: 'DejaVu Sans', 'Liberation Sans', sans-serif; text-anchor: middle" x="399.877083" y="195.469256" transform="rotate(-90 399.877083 195.469256)">Mass balance (m w.e.)</text>
    </g>
   </g>
   <g id="LineCollection_1"/>
   <g id="patch_30">
    <path d="M 336 372.556634 
L 345.466667 372.556634 
L 354.933333 372.556634 
L 354.933333 18.381877 
L 345.466667 18.381877 
L 336 18.381877 
L 336 372.556634 
z
" style="fill: none; stroke: #000000; stroke-width: 0.85; stroke-linejoin: miter; stroke-linecap: square"/>
   </g>
  </g>
  <g id="axes_3">
   <g id="patch_31">
    <path d="M 450.333333 171.779935 
L 583.666667 171.779935 
L 583.666667 18.640777 
L 450.333333 18.640777 
z
" style="fill: #ffffff"/>
   </g>
   <g id="patch_32">
    <path d="M 450.333333 171.779935 
L 583.666667 171.779935 
L 583.666667 18.640777 
L 450.333333 18.640777 
z
" clip-path="url(#p58fcbd00df)" style="fill: #46085c"/>
   </g>
   <g id="QuadContourSet_20">
    <path d="M 460.589744 18.640777 
L 470.846154 18.640777 
L 481.102564 18.640777 
L 491.358974 18.640777 
L 501.615385 18.640777 
L 511.871795 18.640777 
L 522.128205 18.640777 
L 532.384615 18.640777 
L 542.641026 18.640777 
L 552.897436 18.640777 
L 563.153846 18.640777 
L 573.410256 18.640777 
L 583.666667 18.640777 
L 583.666667 33.954693 
L 583.666667 49.268608 
L 583.666667 64.582524 
L 583.666667 79.89644 
L 583.666667 95.210356 
L 583.666667 110.524272 
L 583.666667 125.838188 
L 583.666667 141.152104 
L 583.666667 156.466019 
L 583.666667 171.779935 
L 573.410256 171.779935 
L 563.153846 171.779935 
L 552.897436 171.779935 
L 542.641026 171.779935 
L 532.384615 171.779935 
L 522.128205 171.779935 
L 511.871795 171.779935 
L 501.615385 171.779935 
L 491.358974 171.779935 
L 481.102564 171.779935 
L 470.846154 171.779935 
L 460.589744 171.779935 
L 456.866462 171.779935 
L 450.333333 166.358407 
L 450.333333 156.466019 
L 450.333333 141.152104 
L 450.333333 125.838188 
L 450.333333 110.524272 
L 450.333333 95.210356 
L 450.333333 79.89644 
L 450.333333 64.582524 
L 450.333333 49.268608 
L 450.333333 33.954693 
L 450.333333 18.640777 
z
" clip-path="url(#p58fcbd00df)" style="fill: #481a6c"/>
   </g>
   <g id="QuadContourSet_21">
    <path d="M 460.589744 18.640777 
L 470.846154 18.640777 
L 481.102564 18.640777 
L 491.358974 18.640777 
L 501.615385 18.640777 
L 511.871795 18.640777 
L 522.128205 18.640777 
L 532.384615 18.640777 
L 542.641026 18.640777 
L 552.897436 18.640777 
L 563.153846 18.640777 
L 573.410256 18.640777 
L 583.666667 18.640777 
L 583.666667 33.954693 
L 583.666667 49.268608 
L 583.666667 64.582524 
L 583.666667 79.89644 
L 583.666667 95.210356 
L 583.666667 110.524272 
L 583.666667 125.838188 
L 583.666667 141.152104 
L 583.666667 156.466019 
L 583.666667 171.779935 
L 573.410256 171.779935 
L 563.153846 171.779935 
L 552.897436 171.779935 
L 542.641026 171.779935 
L 532.384615 171.779935 
L 522.128205 171.779935 
L 511.871795 171.779935 
L 501.615385 171.779935 
L 491.358974 171.779935 
L 481.102564 171.779935 
L 470.846154 171.779935 
L 467.84284 171.779935 
L 460.589744 160.428934 
L 455.911161 156.466019 
L 450.333333 148.070301 
L 450.333333 141.152104 
L 450.333333 125.838188 
L 450.333333 110.524272 
L 450.333333 95.210356 
L 450.333333 79.89644 
L 450.333333 64.582524 
L 450.333333 49.268608 
L 450.333333 33.954693 
L 450.333333 18.640777 
z
" clip-path="url(#p58fcbd00df)" style="fill: #482979"/>
   </g>
   <g id="QuadContourSet_22">
    <path d="M 460.589744 18.640777 
L 470.846154 18.640777 
L 481.102564 18.640777 
L 491.358974 18.640777 
L 501.615385 18.640777 
L 511.871795 18.640777 
L 522.128205 18.640777 
L 532.384615 18.640777 
L 542.641026 18.640777 
L 552.897436 18.640777 
L 563.153846 18.640777 
L 573.410256 18.640777 
L 583.666667 18.640777 
L 583.666667 33.954693 
L 583.666667 49.268608 
L 583.666667 64.582524 
L 583.666667 79.89644 
L 583.666667 95.210356 
L 583.666667 110.524272 
L 583.666667 125.838188 
L 583.666667 141.152104 
L 583.666667 156.466019 
L 583.666667 171.779935 
L 573.410256 171.779935 
L 563.153846 171.779935 
L 552.897436 171.779935 
L 542.641026 171.779935 
L 532.384615 171.779935 
L 522.128205 171.779935 
L 511.871795 171.779935 
L 501.615385 171.779935 
L 491.358974 171.779935 
L 481.988999 171.779935 
L 481.102564 170.136527 
L 471.28027 156.466019 
L 470.846154 155.895207 
L 460.589744 143.476578 
L 459.04175 141.152104 
L 450.333333 131.585498 
L 450.333333 125.838188 
L 450.333333 110.524272 
L 450.333333 95.210356 
L 450.333333 79.89644 
L 450.333333 64.582524 
L 450.333333 49.268608 
L 450.333333 33.954693 
L 450.333333 18.640777 
z
" clip-path="url(#p58fcbd00df)" style="fill: #453781"/>
   </g>
   <g id="QuadContourSet_23">
    <path d="M 460.589744 18.640777 
L 470.846154 18.640777 
L 481.102564 18.640777 
L 491.358974 18.640777 
L 501.615385 18.640777 
L 511.871795 18.640777 
L 522.128205 18.640777 
L 532.384615 18.640777 
L 542.641026 18.640777 
L 552.897436 18.640777 
L 563.153846 18.640777 
L 573.410256 18.640777 
L 583.666667 18.640777 
L 583.666667 33.954693 
L 583.666667 49.268608 
L 583.666667 64.582524 
L 583.666667 79.89644 
L 583.666667 95.210356 
L 583.666667 110.524272 
L 583.666667 125.838188 
L 583.666667 141.152104 
L 583.666667 156.466019 
L 583.666667 171.779935 
L 573.410256 171.779935 
L 563.153846 171.779935 
L 552.897436 171.779935 
L 542.641026 171.779935 
L 532.384615 171.779935 
L 522.128205 171.779935 
L 511.871795 171.779935 
L 501.615385 171.779935 
L 491.358974 171.779935 
L 490.804143 171.779935 
L 482.980046 156.466019 
L 481.102564 154.715761 
L 471.198843 141.152104 
L 470.846154 140.495534 
L 460.589744 127.823994 
L 458.66698 125.838188 
L 450.333333 117.702071 
L 450.333333 110.524272 
L 450.333333 95.210356 
L 450.333333 79.89644 
L 450.333333 64.582524 
L 450.333333 49.268608 
L 450.333333 33.954693 
L 450.333333 18.640777 
z
" clip-path="url(#p58fcbd00df)" style="fill: #404588"/>
   </g>
   <g id="QuadContourSet_24">
    <path d="M 460.589744 18.640777 
L 470.846154 18.640777 
L 481.102564 18.640777 
L 491.358974 18.640777 
L 501.615385 18.640777 
L 511.871795 18.640777 
L 522.128205 18.640777 
L 532.384615 18.640777 
L 542.641026 18.640777 
L 552.897436 18.640777 
L 563.153846 18.640777 
L 573.410256 18.640777 
L 583.666667 18.640777 
L 583.666667 33.954693 
L 583.666667 49.268608 
L 583.666667 64.582524 
L 583.666667 79.89644 
L 583.666667 95.210356 
L 583.666667 110.524272 
L 583.666667 125.838188 
L 583.666667 141.152104 
L 583.666667 156.466019 
L 583.666667 171.779935 
L 573.410256 171.779935 
L 563.153846 171.779935 
L 552.897436 171.779935 
L 542.641026 171.779935 
L 532.384615 171.779935 
L 522.128205 171.779935 
L 511.871795 171.779935 
L 501.615385 171.779935 
L 501.398225 171.779935 
L 493.422859 156.466019 
L 491.358974 153.243538 
L 481.102564 144.011979 
L 479.014381 141.152104 
L 470.846154 125.94606 
L 470.759518 125.838188 
L 460.589744 114.465988 
L 456.75001 110.524272 
L 450.333333 102.767226 
L 450.333333 95.210356 
L 450.333333 79.89644 
L 450.333333 64.582524 
L 450.333333 49.268608 
L 450.333333 33.954693 
L 450.333333 18.640777 
z
" clip-path="url(#p58fcbd00df)" style="fill: #3b518b"/>
   </g>
   <g id="QuadContourSet_25">
    <path d="M 460.589744 18.640777 
L 470.846154 18.640777 
L 481.102564 18.640777 
L 491.358974 18.640777 
L 501.615385 18.640777 
L 511.871795 18.640777 
L 522.128205 18.640777 
L 532.384615 18.640777 
L 542.641026 18.640777 
L 552.897436 18.640777 
L 563.153846 18.640777 
L 573.410256 18.640777 
L 583.666667 18.640777 
L 583.666667 33.954693 
L 583.666667 49.268608 
L 583.666667 64.582524 
L 583.666667 79.89644 
L 583.666667 95.210356 
L 583.666667 110.524272 
L 583.666667 125.838188 
L 583.666667 141.152104 
L 583.666667 156.466019 
L 583.666667 171.779935 
L 573.410256 171.779935 
L 563.153846 171.779935 
L 552.897436 171.779935 
L 542.641026 171.779935 
L 532.384615 171.779935 
L 522.128205 171.779935 
L 514.266056 171.779935 
L 511.871795 169.030673 
L 501.615385 157.524221 
L 501.059973 156.466019 
L 491.358974 141.319202 
L 491.166527 141.152104 
L 481.102564 128.710127 
L 479.609193 125.838188 
L 470.846154 113.793298 
L 467.99104 110.524272 
L 460.589744 100.317732 
L 456.414158 95.210356 
L 450.333333 87.405855 
L 450.333333 79.89644 
L 450.333333 64.582524 
L 450.333333 49.268608 
L 450.333333 33.954693 
L 450.333333 18.640777 
z
" clip-path="url(#p58fcbd00df)" style="fill: #355e8d"/>
   </g>
   <g id="QuadContourSet_26">
    <path d="M 460.589744 18.640777 
L 470.846154 18.640777 
L 481.102564 18.640777 
L 491.358974 18.640777 
L 501.615385 18.640777 
L 511.871795 18.640777 
L 522.128205 18.640777 
L 532.384615 18.640777 
L 542.641026 18.640777 
L 552.897436 18.640777 
L 563.153846 18.640777 
L 573.410256 18.640777 
L 583.666667 18.640777 
L 583.666667 33.954693 
L 583.666667 49.268608 
L 583.666667 64.582524 
L 583.666667 79.89644 
L 583.666667 95.210356 
L 583.666667 110.524272 
L 583.666667 125.838188 
L 583.666667 141.152104 
L 583.666667 156.466019 
L 583.666667 171.779935 
L 573.410256 171.779935 
L 563.153846 171.779935 
L 552.897436 171.779935 
L 542.641026 171.779935 
L 532.384615 171.779935 
L 526.658162 171.779935 
L 522.128205 165.93336 
L 514.528044 156.466019 
L 511.871795 152.012236 
L 505.308173 141.152104 
L 501.615385 137.201084 
L 491.358974 126.993396 
L 490.453565 125.838188 
L 481.808583 110.524272 
L 481.102564 109.347169 
L 470.846154 99.322894 
L 467.851798 95.210356 
L 460.589744 85.638727 
L 456.145164 79.89644 
L 450.333333 69.592751 
L 450.333333 64.582524 
L 450.333333 49.268608 
L 450.333333 33.954693 
L 450.333333 18.640777 
z
" clip-path="url(#p58fcbd00df)" style="fill: #306a8e"/>
   </g>
   <g id="QuadContourSet_27">
    <path d="M 460.589744 18.640777 
L 470.846154 18.640777 
L 481.102564 18.640777 
L 491.358974 18.640777 
L 501.615385 18.640777 
L 511.871795 18.640777 
L 522.128205 18.640777 
L 532.384615 18.640777 
L 542.641026 18.640777 
L 552.897436 18.640777 
L 563.153846 18.640777 
L 573.410256 18.640777 
L 583.666667 18.640777 
L 583.666667 33.954693 
L 583.666667 49.268608 
L 583.666667 64.582524 
L 583.666667 79.89644 
L 583.666667 95.210356 
L 583.666667 110.524272 
L 583.666667 125.838188 
L 583.666667 141.152104 
L 583.666667 156.466019 
L 583.666667 171.779935 
L 573.410256 171.779935 
L 563.153846 171.779935 
L 552.897436 171.779935 
L 542.641026 171.779935 
L 539.588312 171.779935 
L 532.384615 162.973144 
L 526.634745 156.466019 
L 522.128205 150.278527 
L 517.025455 141.152104 
L 511.871795 136.819571 
L 501.615385 126.473962 
L 500.994356 125.838188 
L 491.358974 112.614005 
L 490.14727 110.524272 
L 481.102564 95.44457 
L 480.871752 95.210356 
L 470.846154 83.689223 
L 467.941504 79.89644 
L 460.589744 67.443303 
L 458.979065 64.582524 
L 450.333333 53.64517 
L 450.333333 49.268608 
L 450.333333 33.954693 
L 450.333333 18.640777 
z
" clip-path="url(#p58fcbd00df)" style="fill: #2b748e"/>
   </g>
   <g id="QuadContourSet_28">
    <path d="M 460.589744 18.640777 
L 470.846154 18.640777 
L 481.102564 18.640777 
L 491.358974 18.640777 
L 501.615385 18.640777 
L 511.871795 18.640777 
L 522.128205 18.640777 
L 532.384615 18.640777 
L 542.641026 18.640777 
L 552.897436 18.640777 
L 563.153846 18.640777 
L 573.410256 18.640777 
L 583.666667 18.640777 
L 583.666667 33.954693 
L 583.666667 49.268608 
L 583.666667 64.582524 
L 583.666667 79.89644 
L 583.666667 95.210356 
L 583.666667 110.524272 
L 583.666667 125.838188 
L 583.666667 141.152104 
L 583.666667 156.466019 
L 583.666667 171.779935 
L 573.410256 171.779935 
L 563.153846 171.779935 
L 552.897436 171.779935 
L 551.402363 171.779935 
L 542.641026 159.713319 
L 540.170444 156.466019 
L 532.384615 145.796544 
L 529.125202 141.152104 
L 522.128205 133.097008 
L 513.653644 125.838188 
L 511.871795 123.772097 
L 501.876745 110.524272 
L 501.615385 109.974431 
L 492.024627 95.210356 
L 491.358974 94.526295 
L 481.102564 81.560879 
L 479.703671 79.89644 
L 470.846154 66.48463 
L 469.704982 64.582524 
L 460.589744 54.68362 
L 456.464503 49.268608 
L 450.333333 39.894932 
L 450.333333 33.954693 
L 450.333333 18.640777 
z
" clip-path="url(#p58fcbd00df)" style="fill: #27808e"/>
   </g>
   <g id="QuadContourSet_29">
    <path d="M 460.589744 18.640777 
L 470.846154 18.640777 
L 481.102564 18.640777 
L 491.358974 18.640777 
L 501.615385 18.640777 
L 511.871795 18.640777 
L 522.128205 18.640777 
L 532.384615 18.640777 
L 542.641026 18.640777 
L 552.897436 18.640777 
L 563.153846 18.640777 
L 573.410256 18.640777 
L 583.666667 18.640777 
L 583.666667 33.954693 
L 583.666667 49.268608 
L 583.666667 64.582524 
L 583.666667 79.89644 
L 583.666667 95.210356 
L 583.666667 110.524272 
L 583.666667 125.838188 
L 583.666667 141.152104 
L 583.666667 156.466019 
L 583.666667 171.779935 
L 573.410256 171.779935 
L 563.153846 171.779935 
L 562.304047 171.779935 
L 552.897436 160.731482 
L 549.82983 156.466019 
L 542.641026 146.863065 
L 538.541054 141.152104 
L 532.384615 129.694663 
L 528.646366 125.838188 
L 522.128205 119.322587 
L 514.613465 110.524272 
L 511.871795 105.762464 
L 506.710643 95.210356 
L 501.615385 90.07251 
L 493.010468 79.89644 
L 491.358974 77.579944 
L 481.102564 67.422318 
L 479.221913 64.582524 
L 470.846154 53.768566 
L 466.618821 49.268608 
L 460.589744 39.225964 
L 457.174979 33.954693 
L 450.333333 24.721878 
L 450.333333 18.640777 
z
" clip-path="url(#p58fcbd00df)" style="fill: #228b8d"/>
   </g>
   <g id="QuadContourSet_30">
    <path d="M 460.589744 18.640777 
L 470.846154 18.640777 
L 481.102564 18.640777 
L 491.358974 18.640777 
L 501.615385 18.640777 
L 511.871795 18.640777 
L 522.128205 18.640777 
L 532.384615 18.640777 
L 542.641026 18.640777 
L 552.897436 18.640777 
L 563.153846 18.640777 
L 573.410256 18.640777 
L 583.666667 18.640777 
L 583.666667 33.954693 
L 583.666667 49.268608 
L 583.666667 64.582524 
L 583.666667 79.89644 
L 583.666667 95.210356 
L 583.666667 110.524272 
L 583.666667 125.838188 
L 583.666667 141.152104 
L 583.666667 156.466019 
L 583.666667 171.779935 
L 573.410256 171.779935 
L 571.589022 171.779935 
L 563.153846 160.399741 
L 559.842068 156.466019 
L 552.897436 145.892775 
L 549.228133 141.152104 
L 542.641026 131.594374 
L 539.593155 125.838188 
L 532.384615 117.375584 
L 526.441514 110.524272 
L 522.128205 102.327055 
L 517.891733 95.210356 
L 511.871795 87.687112 
L 503.519959 79.89644 
L 501.615385 77.342685 
L 492.277008 64.582524 
L 491.358974 63.729474 
L 481.102564 50.833578 
L 479.80545 49.268608 
L 472.093229 33.954693 
L 470.846154 32.04085 
L 460.589744 23.443481 
L 457.076424 18.640777 
z
" clip-path="url(#p58fcbd00df)" style="fill: #1f958b"/>
   </g>
   <g id="QuadContourSet_31">
    <path d="M 481.102564 18.640777 
L 491.358974 18.640777 
L 501.615385 18.640777 
L 511.871795 18.640777 
L 522.128205 18.640777 
L 532.384615 18.640777 
L 542.641026 18.640777 
L 552.897436 18.640777 
L 563.153846 18.640777 
L 573.410256 18.640777 
L 583.666667 18.640777 
L 583.666667 33.954693 
L 583.666667 49.268608 
L 583.666667 64.582524 
L 583.666667 79.89644 
L 583.666667 95.210356 
L 583.666667 110.524272 
L 583.666667 125.838188 
L 583.666667 141.152104 
L 583.666667 156.466019 
L 583.666667 166.862041 
L 574.724903 156.466019 
L 573.410256 154.95713 
L 563.153846 142.920085 
L 561.998363 141.152104 
L 552.897436 131.714228 
L 548.875863 125.838188 
L 542.641026 116.63878 
L 537.080458 110.524272 
L 532.384615 101.237064 
L 529.431883 95.210356 
L 522.128205 87.356679 
L 516.213252 79.89644 
L 511.871795 73.104988 
L 505.641732 64.582524 
L 501.615385 60.485107 
L 491.358974 50.495363 
L 490.409834 49.268608 
L 481.102564 34.301704 
L 480.916612 33.954693 
L 470.95326 18.640777 
z
" clip-path="url(#p58fcbd00df)" style="fill: #1fa188"/>
   </g>
   <g id="QuadContourSet_32">
    <path d="M 491.358974 18.640777 
L 501.615385 18.640777 
L 511.871795 18.640777 
L 522.128205 18.640777 
L 532.384615 18.640777 
L 542.641026 18.640777 
L 552.897436 18.640777 
L 563.153846 18.640777 
L 573.410256 18.640777 
L 583.666667 18.640777 
L 583.666667 33.954693 
L 583.666667 49.268608 
L 583.666667 64.582524 
L 583.666667 79.89644 
L 583.666667 95.210356 
L 583.666667 110.524272 
L 583.666667 125.838188 
L 583.666667 141.152104 
L 583.666667 152.227718 
L 574.730364 141.152104 
L 573.410256 139.219989 
L 563.153846 129.050662 
L 560.075793 125.838188 
L 552.897436 115.660515 
L 549.402788 110.524272 
L 542.641026 97.540711 
L 541.451943 95.210356 
L 532.384615 84.539778 
L 527.89634 79.89644 
L 522.128205 72.93679 
L 516.795494 64.582524 
L 511.871795 57.721162 
L 502.546098 49.268608 
L 501.615385 48.115099 
L 494.099395 33.954693 
L 491.358974 30.982127 
L 481.237985 18.640777 
z
" clip-path="url(#p58fcbd00df)" style="fill: #25ac82"/>
   </g>
   <g id="QuadContourSet_33">
    <path d="M 491.358974 18.640777 
L 501.615385 18.640777 
L 511.871795 18.640777 
L 522.128205 18.640777 
L 532.384615 18.640777 
L 542.641026 18.640777 
L 552.897436 18.640777 
L 563.153846 18.640777 
L 573.410256 18.640777 
L 583.666667 18.640777 
L 583.666667 33.954693 
L 583.666667 49.268608 
L 583.666667 64.582524 
L 583.666667 79.89644 
L 583.666667 95.210356 
L 583.666667 110.524272 
L 583.666667 125.838188 
L 583.666667 140.121521 
L 573.859674 125.838188 
L 573.410256 125.295398 
L 563.153846 114.851272 
L 560.133561 110.524272 
L 552.950702 95.210356 
L 552.897436 95.118352 
L 542.641026 83.437386 
L 539.693166 79.89644 
L 532.384615 68.788698 
L 528.897502 64.582524 
L 522.128205 55.110974 
L 517.842113 49.268608 
L 511.871795 42.355112 
L 505.346117 33.954693 
L 501.615385 30.325514 
L 491.358974 19.420883 
L 490.719219 18.640777 
z
" clip-path="url(#p58fcbd00df)" style="fill: #32b67a"/>
   </g>
   <g id="QuadContourSet_34">
    <path d="M 511.871795 18.640777 
L 522.128205 18.640777 
L 532.384615 18.640777 
L 542.641026 18.640777 
L 552.897436 18.640777 
L 563.153846 18.640777 
L 573.410256 18.640777 
L 583.666667 18.640777 
L 583.666667 33.954693 
L 583.666667 49.268608 
L 583.666667 64.582524 
L 583.666667 79.89644 
L 583.666667 95.210356 
L 583.666667 110.524272 
L 583.666667 123.018284 
L 573.410256 110.962506 
L 572.981847 110.524272 
L 563.153846 97.089865 
L 562.242077 95.210356 
L 553.43896 79.89644 
L 552.897436 79.254527 
L 542.641026 66.935339 
L 541.095002 64.582524 
L 532.384615 55.274105 
L 528.190703 49.268608 
L 522.128205 41.12356 
L 516.402742 33.954693 
L 511.871795 25.774187 
L 502.715838 18.640777 
z
" clip-path="url(#p58fcbd00df)" style="fill: #46c06f"/>
   </g>
   <g id="QuadContourSet_35">
    <path d="M 522.128205 18.640777 
L 532.384615 18.640777 
L 542.641026 18.640777 
L 552.897436 18.640777 
L 563.153846 18.640777 
L 573.410256 18.640777 
L 583.666667 18.640777 
L 583.666667 33.954693 
L 583.666667 49.268608 
L 583.666667 64.582524 
L 583.666667 79.89644 
L 583.666667 95.210356 
L 583.666667 107.804598 
L 575.126929 95.210356 
L 573.410256 92.866822 
L 563.769028 79.89644 
L 563.153846 78.616789 
L 552.897436 66.79328 
L 551.156334 64.582524 
L 542.641026 53.304879 
L 538.801514 49.268608 
L 532.384615 40.211769 
L 527.458793 33.954693 
L 522.128205 25.853015 
L 518.290317 18.640777 
z
" clip-path="url(#p58fcbd00df)" style="fill: #5cc863"/>
   </g>
   <g id="QuadContourSet_36">
    <path d="M 532.384615 18.640777 
L 542.641026 18.640777 
L 552.897436 18.640777 
L 563.153846 18.640777 
L 573.410256 18.640777 
L 583.666667 18.640777 
L 583.666667 33.954693 
L 583.666667 49.268608 
L 583.666667 64.582524 
L 583.666667 79.89644 
L 583.666667 95.210356 
L 583.666667 96.020065 
L 583.11763 95.210356 
L 573.410256 81.958231 
L 571.877672 79.89644 
L 564.735164 64.582524 
L 563.153846 62.162566 
L 552.897436 50.731918 
L 551.749337 49.268608 
L 542.641026 35.702477 
L 541.393485 33.954693 
L 532.384615 21.435223 
L 530.543866 18.640777 
z
" clip-path="url(#p58fcbd00df)" style="fill: #77d153"/>
   </g>
   <g id="QuadContourSet_37">
    <path d="M 542.641026 18.640777 
L 552.897436 18.640777 
L 563.153846 18.640777 
L 573.410256 18.640777 
L 583.666667 18.640777 
L 583.666667 33.954693 
L 583.666667 49.268608 
L 583.666667 64.582524 
L 583.666667 75.238561 
L 574.399156 64.582524 
L 573.410256 63.313499 
L 564.259261 49.268608 
L 563.153846 48.013456 
L 552.897436 36.4008 
L 551.256269 33.954693 
L 542.641026 21.713814 
L 540.479836 18.640777 
z
" clip-path="url(#p58fcbd00df)" style="fill: #95d840"/>
   </g>
   <g id="QuadContourSet_38">
    <path d="M 563.153846 18.640777 
L 573.410256 18.640777 
L 583.666667 18.640777 
L 583.666667 33.954693 
L 583.666667 49.268608 
L 583.666667 60.736803 
L 574.863493 49.268608 
L 573.410256 47.154712 
L 563.153846 36.079085 
L 561.336197 33.954693 
L 553.90157 18.640777 
z
" clip-path="url(#p58fcbd00df)" style="fill: #b2dd2d"/>
   </g>
   <g id="QuadContourSet_39">
    <path d="M 573.410256 18.640777 
L 583.666667 18.640777 
L 583.666667 33.954693 
L 583.666667 45.413385 
L 575.770339 33.954693 
L 573.410256 31.440621 
L 563.183021 18.640777 
z
" clip-path="url(#p58fcbd00df)" style="fill: #d2e21b"/>
   </g>
   <g id="QuadContourSet_40">
    <path d="M 583.666667 18.640777 
L 583.666667 28.59693 
L 573.728787 18.640777 
z
" clip-path="url(#p58fcbd00df)" style="fill: #f1e51d"/>
   </g>
   <g id="matplotlib.axis_5">
    <g id="xtick_7">
     <g id="line2d_42">
      <path d="M 456.234737 171.779935 
L 456.234737 18.640777 
" clip-path="url(#p58fcbd00df)" style="fill: none; stroke: #b0b0b0; stroke-width: 0.65; stroke-linecap: square"/>
     </g>
     <g id="line2d_43">
      <g>
       <use href="#m6048d55edf" x="456.234737" y="171.779935" style="stroke: #000000; stroke-width: 0.65"/>
      </g>
     </g>
     <g id="text_29">
      <text style="font-size: 10px; font-family: 'DejaVu Sans', 'Liberation Sans', sans-serif; text-anchor: middle" x="456.234737" y="184.578373" transform="rotate(-0 456.234737 184.578373)">0.1</text>
     </g>
    </g>
    <g id="xtick_8">
     <g id="line2d_44">
      <path d="M 504.213626 171.779935 
L 504.213626 18.640777 
" clip-path="url(#p58fcbd00df)" style="fill: none; stroke: #b0b0b0; stroke-width: 0.65; stroke-linecap: square"/>
     </g>
     <g id="line2d_45">
      <g>
       <use href="#m6048d55edf" x="504.213626" y="171.779935" style="stroke: #000000; stroke-width: 0.65"/>
      </g>
     </g>
     <g id="text_30">
      <text style="font-size: 10px; font-family: 'DejaVu Sans', 'Liberation Sans', sans-serif; text-anchor: middle" x="504.213626" y="184.578373" transform="rotate(-0 504.213626 184.578373)">0.2</text>
     </g>
    </g>
    <g id="xtick_9">
     <g id="line2d_46">
      <path d="M 552.192515 171.779935 
L 552.192515 18.640777 
" clip-path="url(#p58fcbd00df)" style="fill: none; stroke: #b0b0b0; stroke-width: 0.65; stroke-linecap: square"/>
     </g>
     <g id="line2d_47">
      <g>
       <use href="#m6048d55edf" x="552.192515" y="171.779935" style="stroke: #000000; stroke-width: 0.65"/>
      </g>
     </g>
     <g id="text_31">
      <text style="font-size: 10px; font-family: 'DejaVu Sans', 'Liberation Sans', sans-serif; text-anchor: middle" x="552.192515" y="184.578373" transform="rotate(-0 552.192515 184.578373)">0.3</text>
     </g>
    </g>
    <g id="text_32">
     <text style="font-size: 10px; font-family: 'DejaVu Sans', 'Liberation Sans', sans-serif; text-anchor: middle" x="517" y="197.256498" transform="rotate(-0 517 197.256498)">Broadband albedo of liquid water on ice</text>
    </g>
   </g>
   <g id="matplotlib.axis_6">
    <g id="ytick_17">
     <g id="line2d_48">
      <path d="M 450.333333 167.538052 
L 583.666667 167.538052 
" clip-path="url(#p58fcbd00df)" style="fill: none; stroke: #b0b0b0; stroke-width: 0.65; stroke-linecap: square"/>
     </g>
     <g id="line2d_49">
      <g>
       <use href="#m1bb3ccd156" x="450.333333" y="167.538052" style="stroke: #000000; stroke-width: 0.65"/>
      </g>
     </g>
     <g id="text_33">
      <text style="font-size: 10px; font-family: 'DejaVu Sans', 'Liberation Sans', sans-serif; text-anchor: end" x="445.133333" y="171.337271" transform="rotate(-0 445.133333 171.337271)">0.35</text>
     </g>
    </g>
    <g id="ytick_18">
     <g id="line2d_50">
      <path d="M 450.333333 131.589893 
L 583.666667 131.589893 
" clip-path="url(#p58fcbd00df)" style="fill: none; stroke: #b0b0b0; stroke-width: 0.65; stroke-linecap: square"/>
     </g>
     <g id="line2d_51">
      <g>
       <use href="#m1bb3ccd156" x="450.333333" y="131.589893" style="stroke: #000000; stroke-width: 0.65"/>
      </g>
     </g>
     <g id="text_34">
      <text style="font-size: 10px; font-family: 'DejaVu Sans', 'Liberation Sans', sans-serif; text-anchor: end" x="445.133333" y="135.389112" transform="rotate(-0 445.133333 135.389112)">0.40</text>
     </g>
    </g>
    <g id="ytick_19">
     <g id="line2d_52">
      <path d="M 450.333333 95.641734 
L 583.666667 95.641734 
" clip-path="url(#p58fcbd00df)" style="fill: none; stroke: #b0b0b0; stroke-width: 0.65; stroke-linecap: square"/>
     </g>
     <g id="line2d_53">
      <g>
       <use href="#m1bb3ccd156" x="450.333333" y="95.641734" style="stroke: #000000; stroke-width: 0.65"/>
      </g>
     </g>
     <g id="text_35">
      <text style="font-size: 10px; font-family: 'DejaVu Sans', 'Liberation Sans', sans-serif; text-anchor: end" x="445.133333" y="99.440953" transform="rotate(-0 445.133333 99.440953)">0.45</text>
     </g>
    </g>
    <g id="ytick_20">
     <g id="line2d_54">
      <path d="M 450.333333 59.693575 
L 583.666667 59.693575 
" clip-path="url(#p58fcbd00df)" style="fill: none; stroke: #b0b0b0; stroke-width: 0.65; stroke-linecap: square"/>
     </g>
     <g id="line2d_55">
      <g>
       <use href="#m1bb3ccd156" x="450.333333" y="59.693575" style="stroke: #000000; stroke-width: 0.65"/>
      </g>
     </g>
     <g id="text_36">
      <text style="font-size: 10px; font-family: 'DejaVu Sans', 'Liberation Sans', sans-serif; text-anchor: end" x="445.133333" y="63.492793" transform="rotate(-0 445.133333 63.492793)">0.50</text>
     </g>
    </g>
    <g id="ytick_21">
     <g id="line2d_56">
      <path d="M 450.333333 23.745415 
L 583.666667 23.745415 
" clip-path="url(#p58fcbd00df)" style="fill: none; stroke: #b0b0b0; stroke-width: 0.65; stroke-linecap: square"/>
     </g>
     <g id="line2d_57">
      <g>
       <use href="#m1bb3ccd156" x="450.333333" y="23.745415" style="stroke: #000000; stroke-width: 0.65"/>
      </g>
     </g>
     <g id="text_37">
      <text style="font-size: 10px; font-family: 'DejaVu Sans', 'Liberation Sans', sans-serif; text-anchor: end" x="445.133333" y="27.544634" transform="rotate(-0 445.133333 27.544634)">0.55</text>
     </g>
    </g>
    <g id="text_38">
     <text style="font-size: 10px; font-family: 'DejaVu Sans', 'Liberation Sans', sans-serif; text-anchor: middle" x="418.788021" y="95.210356" transform="rotate(-90 418.788021 95.210356)">Broadband albedo of refrozen ice</text>
    </g>
   </g>
   <g id="patch_33">
    <path d="M 450.333333 171.779935 
L 450.333333 18.640777 
" style="fill: none; stroke: #000000; stroke-width: 0.85; stroke-linejoin: miter; stroke-linecap: square"/>
   </g>
   <g id="patch_34">
    <path d="M 583.666667 171.779935 
L 583.666667 18.640777 
" style="fill: none; stroke: #000000; stroke-width: 0.85; stroke-linejoin: miter; stroke-linecap: square"/>
   </g>
   <g id="patch_35">
    <path d="M 450.333333 171.779935 
L 583.666667 171.779935 
" style="fill: none; stroke: #000000; stroke-width: 0.85; stroke-linejoin: miter; stroke-linecap: square"/>
   </g>
   <g id="patch_36">
    <path d="M 450.333333 18.640777 
L 583.666667 18.640777 
" style="fill: none; stroke: #000000; stroke-width: 0.85; stroke-linejoin: miter; stroke-linecap: square"/>
   </g>
   <g id="text_39">
    <text style="font-size: 10px; font-family: 'DejaVu Sans', 'Liberation Sans', sans-serif; text-anchor: middle" x="517" y="14.340777" transform="rotate(-0 517 14.340777)">(b) 2022-03-09 - 2022-03-17</text>
   </g>
  </g>
  <g id="axes_4">
   <g id="patch_37">
    <path d="M 591.333333 171.779935 
L 599.466667 171.779935 
L 599.466667 18.640777 
L 591.333333 18.640777 
z
" style="fill: #ffffff"/>
   </g>
   <g id="patch_38">
    <path d="M 591.333333 171.779935 
L 599.466667 171.779935 
L 599.466667 18.640777 
L 591.333333 18.640777 
z
" clip-path="url(#pe10b2d5279)" style="fill: #46085c"/>
   </g>
   <g id="patch_39">
    <path d="M 591.333333 164.819064 
L 599.466667 164.819064 
L 599.466667 18.640777 
L 591.333333 18.640777 
z
" clip-path="url(#pe10b2d5279)" style="fill: #481a6c"/>
   </g>
   <g id="patch_40">
    <path d="M 591.333333 157.858194 
L 599.466667 157.858194 
L 599.466667 18.640777 
L 591.333333 18.640777 
z
" clip-path="url(#pe10b2d5279)" style="fill: #482979"/>
   </g>
   <g id="patch_41">
    <path d="M 591.333333 150.897323 
L 599.466667 150.897323 
L 599.466667 18.640777 
L 591.333333 18.640777 
z
" clip-path="url(#pe10b2d5279)" style="fill: #453781"/>
   </g>
   <g id="patch_42">
    <path d="M 591.333333 143.936452 
L 599.466667 143.936452 
L 599.466667 18.640777 
L 591.333333 18.640777 
z
" clip-path="url(#pe10b2d5279)" style="fill: #404588"/>
   </g>
   <g id="patch_43">
    <path d="M 591.333333 136.975581 
L 599.466667 136.975581 
L 599.466667 18.640777 
L 591.333333 18.640777 
z
" clip-path="url(#pe10b2d5279)" style="fill: #3b518b"/>
   </g>
   <g id="patch_44">
    <path d="M 591.333333 130.01471 
L 599.466667 130.01471 
L 599.466667 18.640777 
L 591.333333 18.640777 
z
" clip-path="url(#pe10b2d5279)" style="fill: #355e8d"/>
   </g>
   <g id="patch_45">
    <path d="M 591.333333 123.053839 
L 599.466667 123.053839 
L 599.466667 18.640777 
L 591.333333 18.640777 
z
" clip-path="url(#pe10b2d5279)" style="fill: #306a8e"/>
   </g>
   <g id="patch_46">
    <path d="M 591.333333 116.092969 
L 599.466667 116.092969 
L 599.466667 18.640777 
L 591.333333 18.640777 
z
" clip-path="url(#pe10b2d5279)" style="fill: #2b748e"/>
   </g>
   <g id="patch_47">
    <path d="M 591.333333 109.132098 
L 599.466667 109.132098 
L 599.466667 18.640777 
L 591.333333 18.640777 
z
" clip-path="url(#pe10b2d5279)" style="fill: #27808e"/>
   </g>
   <g id="patch_48">
    <path d="M 591.333333 102.171227 
L 599.466667 102.171227 
L 599.466667 18.640777 
L 591.333333 18.640777 
z
" clip-path="url(#pe10b2d5279)" style="fill: #228b8d"/>
   </g>
   <g id="patch_49">
    <path d="M 591.333333 95.210356 
L 599.466667 95.210356 
L 599.466667 18.640777 
L 591.333333 18.640777 
z
" clip-path="url(#pe10b2d5279)" style="fill: #1f958b"/>
   </g>
   <g id="patch_50">
    <path d="M 591.333333 88.249485 
L 599.466667 88.249485 
L 599.466667 18.640777 
L 591.333333 18.640777 
z
" clip-path="url(#pe10b2d5279)" style="fill: #1fa188"/>
   </g>
   <g id="patch_51">
    <path d="M 591.333333 81.288614 
L 599.466667 81.288614 
L 599.466667 18.640777 
L 591.333333 18.640777 
z
" clip-path="url(#pe10b2d5279)" style="fill: #25ac82"/>
   </g>
   <g id="patch_52">
    <path d="M 591.333333 74.327743 
L 599.466667 74.327743 
L 599.466667 18.640777 
L 591.333333 18.640777 
z
" clip-path="url(#pe10b2d5279)" style="fill: #32b67a"/>
   </g>
   <g id="patch_53">
    <path d="M 591.333333 67.366873 
L 599.466667 67.366873 
L 599.466667 18.640777 
L 591.333333 18.640777 
z
" clip-path="url(#pe10b2d5279)" style="fill: #46c06f"/>
   </g>
   <g id="patch_54">
    <path d="M 591.333333 60.406002 
L 599.466667 60.406002 
L 599.466667 18.640777 
L 591.333333 18.640777 
z
" clip-path="url(#pe10b2d5279)" style="fill: #5cc863"/>
   </g>
   <g id="patch_55">
    <path d="M 591.333333 53.445131 
L 599.466667 53.445131 
L 599.466667 18.640777 
L 591.333333 18.640777 
z
" clip-path="url(#pe10b2d5279)" style="fill: #77d153"/>
   </g>
   <g id="patch_56">
    <path d="M 591.333333 46.48426 
L 599.466667 46.48426 
L 599.466667 18.640777 
L 591.333333 18.640777 
z
" clip-path="url(#pe10b2d5279)" style="fill: #95d840"/>
   </g>
   <g id="patch_57">
    <path d="M 591.333333 39.523389 
L 599.466667 39.523389 
L 599.466667 18.640777 
L 591.333333 18.640777 
z
" clip-path="url(#pe10b2d5279)" style="fill: #b2dd2d"/>
   </g>
   <g id="patch_58">
    <path d="M 591.333333 32.562518 
L 599.466667 32.562518 
L 599.466667 18.640777 
L 591.333333 18.640777 
z
" clip-path="url(#pe10b2d5279)" style="fill: #d2e21b"/>
   </g>
   <g id="patch_59">
    <path d="M 591.333333 25.601648 
L 599.466667 25.601648 
L 599.466667 18.640777 
L 591.333333 18.640777 
z
" clip-path="url(#pe10b2d5279)" style="fill: #f1e51d"/>
   </g>
   <g id="matplotlib.axis_7"/>
   <g id="matplotlib.axis_8">
    <g id="ytick_22">
     <g id="line2d_58">
      <g>
       <use href="#m32840a8728" x="599.466667" y="164.819064" style="stroke: #000000; stroke-width: 0.65"/>
      </g>
     </g>
     <g id="text_40">
      <text style="font-size: 10px; font-family: 'DejaVu Sans', 'Liberation Sans', sans-serif; text-anchor: start" x="604.666667" y="168.618283" transform="rotate(-0 604.666667 168.618283)">−0.0802</text>
     </g>
    </g>
    <g id="ytick_23">
     <g id="line2d_59">
      <g>
       <use href="#m32840a8728" x="599.466667" y="143.936452" style="stroke: #000000; stroke-width: 0.65"/>
      </g>
     </g>
     <g id="text_41">
      <text style="font-size: 10px; font-family: 'DejaVu Sans', 'Liberation Sans', sans-serif; text-anchor: start" x="604.666667" y="147.735671" transform="rotate(-0 604.666667 147.735671)">−0.0796</text>
     </g>
    </g>
    <g id="ytick_24">
     <g id="line2d_60">
      <g>
       <use href="#m32840a8728" x="599.466667" y="123.053839" style="stroke: #000000; stroke-width: 0.65"/>
      </g>
     </g>
     <g id="text_42">
      <text style="font-size: 10px; font-family: 'DejaVu Sans', 'Liberation Sans', sans-serif; text-anchor: start" x="604.666667" y="126.853058" transform="rotate(-0 604.666667 126.853058)">−0.0790</text>
     </g>
    </g>
    <g id="ytick_25">
     <g id="line2d_61">
      <g>
       <use href="#m32840a8728" x="599.466667" y="102.171227" style="stroke: #000000; stroke-width: 0.65"/>
      </g>
     </g>
     <g id="text_43">
      <text style="font-size: 10px; font-family: 'DejaVu Sans', 'Liberation Sans', sans-serif; text-anchor: start" x="604.666667" y="105.970446" transform="rotate(-0 604.666667 105.970446)">−0.0784</text>
     </g>
    </g>
    <g id="ytick_26">
     <g id="line2d_62">
      <g>
       <use href="#m32840a8728" x="599.466667" y="81.288614" style="stroke: #000000; stroke-width: 0.65"/>
      </g>
     </g>
     <g id="text_44">
      <text style="font-size: 10px; font-family: 'DejaVu Sans', 'Liberation Sans', sans-serif; text-anchor: start" x="604.666667" y="85.087833" transform="rotate(-0 604.666667 85.087833)">−0.0778</text>
     </g>
    </g>
    <g id="ytick_27">
     <g id="line2d_63">
      <g>
       <use href="#m32840a8728" x="599.466667" y="60.406002" style="stroke: #000000; stroke-width: 0.65"/>
      </g>
     </g>
     <g id="text_45">
      <text style="font-size: 10px; font-family: 'DejaVu Sans', 'Liberation Sans', sans-serif; text-anchor: start" x="604.666667" y="64.205221" transform="rotate(-0 604.666667 64.205221)">−0.0772</text>
     </g>
    </g>
    <g id="ytick_28">
     <g id="line2d_64">
      <g>
       <use href="#m32840a8728" x="599.466667" y="39.523389" style="stroke: #000000; stroke-width: 0.65"/>
      </g>
     </g>
     <g id="text_46">
      <text style="font-size: 10px; font-family: 'DejaVu Sans', 'Liberation Sans', sans-serif; text-anchor: start" x="604.666667" y="43.322608" transform="rotate(-0 604.666667 43.322608)">−0.0766</text>
     </g>
    </g>
    <g id="ytick_29">
     <g id="line2d_65">
      <g>
       <use href="#m32840a8728" x="599.466667" y="18.640777" style="stroke: #000000; stroke-width: 0.65"/>
      </g>
     </g>
     <g id="text_47">
      <text style="font-size: 10px; font-family: 'DejaVu Sans', 'Liberation Sans', sans-serif; text-anchor: start" x="604.666667" y="22.439995" transform="rotate(-0 604.666667 22.439995)">−0.0760</text>
     </g>
    </g>
    <g id="text_48">
     <text style="font-size: 10px; font-family: 'DejaVu Sans', 'Liberation Sans', sans-serif; text-anchor: middle" x="658.635417" y="95.210356" transform="rotate(-90 658.635417 95.210356)">Mass balance (m w.e.)</text>
    </g>
   </g>
   <g id="LineCollection_2"/>
   <g id="patch_60">
    <path d="M 591.333333 171.779935 
L 595.4 171.779935 
L 599.466667 171.779935 
L 599.466667 18.640777 
L 595.4 18.640777 
L 591.333333 18.640777 
L 591.333333 171.779935 
z
" style="fill: none; stroke: #000000; stroke-width: 0.85; stroke-linejoin: miter; stroke-linecap: square"/>
   </g>
  </g>
  <g id="axes_5">
   <g id="patch_61">
    <path d="M 450.333333 372.556634 
L 583.666667 372.556634 
L 583.666667 219.417476 
L 450.333333 219.417476 
z
" style="fill: #ffffff"/>
   </g>
   <g id="patch_62">
    <path d="M 450.333333 372.556634 
L 583.666667 372.556634 
L 583.666667 219.417476 
L 450.333333 219.417476 
z
" clip-path="url(#p8442b4f16d)" style="fill: #460a5d"/>
   </g>
   <g id="QuadContourSet_41">
    <path d="M 460.589744 219.417476 
L 470.846154 219.417476 
L 481.102564 219.417476 
L 491.358974 219.417476 
L 501.615385 219.417476 
L 511.871795 219.417476 
L 522.128205 219.417476 
L 532.384615 219.417476 
L 542.641026 219.417476 
L 552.897436 219.417476 
L 563.153846 219.417476 
L 573.410256 219.417476 
L 583.666667 219.417476 
L 583.666667 234.731392 
L 583.666667 250.045307 
L 583.666667 265.359223 
L 583.666667 280.673139 
L 583.666667 295.987055 
L 583.666667 311.300971 
L 583.666667 326.614887 
L 583.666667 341.928803 
L 583.666667 357.242718 
L 583.666667 372.556634 
L 573.410256 372.556634 
L 563.153846 372.556634 
L 552.897436 372.556634 
L 542.641026 372.556634 
L 532.384615 372.556634 
L 522.128205 372.556634 
L 511.871795 372.556634 
L 501.615385 372.556634 
L 491.358974 372.556634 
L 481.102564 372.556634 
L 470.846154 372.556634 
L 460.589744 372.556634 
L 450.333333 372.556634 
L 450.333333 357.242718 
L 450.333333 341.928803 
L 450.333333 326.614887 
L 450.333333 311.300971 
L 450.333333 295.987055 
L 450.333333 280.673139 
L 450.333333 265.359223 
L 450.333333 250.045307 
L 450.333333 234.731392 
L 450.333333 219.417476 
z
" clip-path="url(#p8442b4f16d)" style="fill: #481d6f"/>
   </g>
   <g id="QuadContourSet_42">
    <path d="M 460.589744 219.417476 
L 470.846154 219.417476 
L 481.102564 219.417476 
L 491.358974 219.417476 
L 501.615385 219.417476 
L 511.871795 219.417476 
L 522.128205 219.417476 
L 532.384615 219.417476 
L 542.641026 219.417476 
L 552.897436 219.417476 
L 563.153846 219.417476 
L 573.410256 219.417476 
L 583.666667 219.417476 
L 583.666667 234.731392 
L 583.666667 250.045307 
L 583.666667 265.359223 
L 583.666667 280.673139 
L 583.666667 295.987055 
L 583.666667 311.300971 
L 583.666667 326.614887 
L 583.666667 341.928803 
L 583.666667 357.242718 
L 583.666667 372.556634 
L 573.410256 372.556634 
L 563.153846 372.556634 
L 552.897436 372.556634 
L 542.641026 372.556634 
L 532.384615 372.556634 
L 522.128205 372.556634 
L 511.871795 372.556634 
L 501.615385 372.556634 
L 491.358974 372.556634 
L 481.37247 372.556634 
L 481.462438 357.242718 
L 481.102564 353.212741 
L 473.545209 341.928803 
L 470.846154 340.921308 
L 470.666217 341.928803 
L 470.036437 357.242718 
L 460.589744 372.287969 
L 460.373819 372.556634 
L 450.333333 372.556634 
L 450.333333 357.242718 
L 450.333333 341.928803 
L 450.333333 326.614887 
L 450.333333 311.300971 
L 450.333333 300.017033 
L 457.890688 311.300971 
L 460.049933 326.614887 
L 460.589744 326.883552 
L 461.264507 326.614887 
L 461.080481 311.300971 
L 465.987854 295.987055 
L 467.067476 280.673139 
L 461.264507 265.359223 
L 462.748988 250.045307 
L 460.589744 248.836314 
L 450.333333 246.01533 
L 450.333333 234.731392 
L 450.333333 219.417476 
z
" clip-path="url(#p8442b4f16d)" style="fill: #472e7c"/>
   </g>
   <g id="QuadContourSet_43">
    <path d="M 460.589744 219.417476 
L 470.846154 219.417476 
L 481.102564 219.417476 
L 491.358974 219.417476 
L 501.615385 219.417476 
L 511.871795 219.417476 
L 522.128205 219.417476 
L 532.384615 219.417476 
L 542.641026 219.417476 
L 552.897436 219.417476 
L 563.153846 219.417476 
L 573.410256 219.417476 
L 583.666667 219.417476 
L 583.666667 234.731392 
L 583.666667 250.045307 
L 583.666667 265.359223 
L 583.666667 280.673139 
L 583.666667 295.987055 
L 583.666667 311.300971 
L 583.666667 326.614887 
L 583.666667 341.928803 
L 583.666667 357.242718 
L 583.666667 372.556634 
L 573.410256 372.556634 
L 563.153846 372.556634 
L 552.897436 372.556634 
L 542.641026 372.556634 
L 532.384615 372.556634 
L 522.128205 372.556634 
L 511.871795 372.556634 
L 501.615385 372.556634 
L 491.358974 372.556634 
L 484.071525 372.556634 
L 485.061179 357.242718 
L 482.792407 341.928803 
L 482.125364 326.614887 
L 481.102564 325.265313 
L 474.624831 326.614887 
L 470.846154 330.846363 
L 468.866847 341.928803 
L 468.349528 357.242718 
L 460.589744 369.601317 
L 458.214575 372.556634 
L 450.333333 372.556634 
L 450.333333 357.242718 
L 450.333333 341.928803 
L 450.333333 326.614887 
L 450.333333 318.554931 
L 454.651822 326.614887 
L 460.589744 329.570204 
L 468.012146 326.614887 
L 465.987854 311.300971 
L 470.846154 303.321615 
L 481.102564 296.289303 
L 481.333912 295.987055 
L 481.102564 295.584057 
L 472.023923 280.673139 
L 470.846154 271.001192 
L 468.012146 265.359223 
L 467.247413 250.045307 
L 460.589744 246.317578 
L 451.721419 234.731392 
L 450.333333 230.267416 
L 450.333333 219.417476 
z
M 470.522267 234.731392 
L 470.846154 237.149378 
L 471.077501 234.731392 
L 470.846154 234.126895 
z
" clip-path="url(#p8442b4f16d)" style="fill: #423f85"/>
   </g>
   <g id="QuadContourSet_44">
    <path d="M 460.589744 219.417476 
L 470.846154 219.417476 
L 481.102564 219.417476 
L 491.358974 219.417476 
L 501.615385 219.417476 
L 511.871795 219.417476 
L 522.128205 219.417476 
L 532.384615 219.417476 
L 542.641026 219.417476 
L 552.897436 219.417476 
L 563.153846 219.417476 
L 573.410256 219.417476 
L 583.666667 219.417476 
L 583.666667 234.731392 
L 583.666667 250.045307 
L 583.666667 265.359223 
L 583.666667 280.673139 
L 583.666667 295.987055 
L 583.666667 311.300971 
L 583.666667 326.614887 
L 583.666667 341.928803 
L 583.666667 357.242718 
L 583.666667 372.556634 
L 573.410256 372.556634 
L 563.153846 372.556634 
L 552.897436 372.556634 
L 542.641026 372.556634 
L 532.384615 372.556634 
L 522.128205 372.556634 
L 511.871795 372.556634 
L 501.615385 372.556634 
L 491.358974 372.556634 
L 486.77058 372.556634 
L 488.659919 357.242718 
L 485.139412 341.928803 
L 483.545919 326.614887 
L 481.102564 323.390904 
L 470.862031 311.300971 
L 481.102564 298.304292 
L 482.876229 295.987055 
L 481.102564 292.897405 
L 473.659715 280.673139 
L 471.692344 265.359223 
L 471.183536 250.045307 
L 472.619819 234.731392 
L 470.846154 230.096917 
L 468.363023 234.731392 
L 460.589744 243.798842 
L 453.649316 234.731392 
L 450.333333 224.06745 
L 450.333333 219.417476 
z
M 460.589744 332.256856 
L 467.067476 341.928803 
L 466.662618 357.242718 
L 460.589744 366.914665 
L 456.055331 372.556634 
L 450.333333 372.556634 
L 450.333333 357.242718 
L 450.333333 341.928803 
L 450.333333 327.510437 
z
" clip-path="url(#p8442b4f16d)" style="fill: #3d4e8a"/>
   </g>
   <g id="QuadContourSet_45">
    <path d="M 460.589744 219.417476 
L 470.846154 219.417476 
L 481.102564 219.417476 
L 491.358974 219.417476 
L 501.615385 219.417476 
L 511.871795 219.417476 
L 522.128205 219.417476 
L 532.384615 219.417476 
L 542.641026 219.417476 
L 552.897436 219.417476 
L 563.153846 219.417476 
L 573.410256 219.417476 
L 583.666667 219.417476 
L 583.666667 234.731392 
L 583.666667 250.045307 
L 583.666667 265.359223 
L 583.666667 280.673139 
L 583.666667 295.987055 
L 583.666667 311.300971 
L 583.666667 326.614887 
L 583.666667 341.928803 
L 583.666667 357.242718 
L 583.666667 372.556634 
L 573.410256 372.556634 
L 563.153846 372.556634 
L 552.897436 372.556634 
L 542.641026 372.556634 
L 532.384615 372.556634 
L 522.128205 372.556634 
L 511.871795 372.556634 
L 501.615385 372.556634 
L 491.358974 372.556634 
L 489.469636 372.556634 
L 491.358974 361.272696 
L 491.858799 357.242718 
L 491.358974 355.22773 
L 487.486417 341.928803 
L 484.966475 326.614887 
L 481.102564 321.516496 
L 472.44971 311.300971 
L 481.102564 300.319281 
L 484.418546 295.987055 
L 481.102564 290.210753 
L 475.295506 280.673139 
L 473.151293 265.359223 
L 472.870445 250.045307 
L 474.162136 234.731392 
L 470.846154 226.066939 
L 466.203779 234.731392 
L 460.589744 241.280106 
L 455.577212 234.731392 
L 451.233018 219.417476 
z
M 460.589744 334.943508 
L 465.268106 341.928803 
L 464.975709 357.242718 
L 460.589744 364.228013 
L 453.896086 372.556634 
L 450.333333 372.556634 
L 450.333333 357.242718 
L 450.333333 341.928803 
L 450.333333 331.988191 
z
" clip-path="url(#p8442b4f16d)" style="fill: #365d8d"/>
   </g>
   <g id="QuadContourSet_46">
    <path d="M 460.589744 219.417476 
L 470.846154 219.417476 
L 481.102564 219.417476 
L 491.358974 219.417476 
L 501.615385 219.417476 
L 511.871795 219.417476 
L 522.128205 219.417476 
L 532.384615 219.417476 
L 542.641026 219.417476 
L 552.897436 219.417476 
L 563.153846 219.417476 
L 573.410256 219.417476 
L 583.666667 219.417476 
L 583.666667 234.731392 
L 583.666667 250.045307 
L 583.666667 265.359223 
L 583.666667 280.673139 
L 583.666667 295.987055 
L 583.666667 311.300971 
L 583.666667 326.614887 
L 583.666667 341.928803 
L 583.666667 357.242718 
L 583.666667 372.556634 
L 573.410256 372.556634 
L 563.153846 372.556634 
L 552.897436 372.556634 
L 542.641026 372.556634 
L 532.384615 372.556634 
L 522.128205 372.556634 
L 511.871795 372.556634 
L 501.615385 372.556634 
L 492.006748 372.556634 
L 493.8581 357.242718 
L 491.358974 347.167774 
L 489.833421 341.928803 
L 486.38703 326.614887 
L 481.102564 319.642088 
L 474.03739 311.300971 
L 481.102564 302.33427 
L 485.960864 295.987055 
L 481.102564 287.524102 
L 476.931297 280.673139 
L 474.610242 265.359223 
L 474.557355 250.045307 
L 475.704453 234.731392 
L 470.846154 222.036961 
L 464.044534 234.731392 
L 460.589744 238.761369 
L 457.505109 234.731392 
L 454.831759 219.417476 
z
M 460.589744 337.63016 
L 463.468736 341.928803 
L 463.288799 357.242718 
L 460.589744 361.541361 
L 451.736842 372.556634 
L 450.333333 372.556634 
L 450.333333 357.242718 
L 450.333333 341.928803 
L 450.333333 336.465944 
z
" clip-path="url(#p8442b4f16d)" style="fill: #306a8e"/>
   </g>
   <g id="QuadContourSet_47">
    <path d="M 460.589744 219.417476 
L 467.067476 219.417476 
L 461.88529 234.731392 
L 460.589744 236.242633 
L 459.433006 234.731392 
L 458.430499 219.417476 
z
M 481.102564 219.417476 
L 491.358974 219.417476 
L 501.615385 219.417476 
L 511.871795 219.417476 
L 522.128205 219.417476 
L 532.384615 219.417476 
L 542.641026 219.417476 
L 552.897436 219.417476 
L 563.153846 219.417476 
L 573.410256 219.417476 
L 583.666667 219.417476 
L 583.666667 234.731392 
L 583.666667 250.045307 
L 583.666667 265.359223 
L 583.666667 280.673139 
L 583.666667 295.987055 
L 583.666667 311.300971 
L 583.666667 326.614887 
L 583.666667 341.928803 
L 583.666667 357.242718 
L 583.666667 372.556634 
L 573.410256 372.556634 
L 563.153846 372.556634 
L 552.897436 372.556634 
L 542.641026 372.556634 
L 532.384615 372.556634 
L 522.128205 372.556634 
L 511.871795 372.556634 
L 501.615385 372.556634 
L 494.165992 372.556634 
L 495.8574 357.242718 
L 492.303644 341.928803 
L 491.358974 340.048146 
L 487.807586 326.614887 
L 481.102564 317.76768 
L 475.625069 311.300971 
L 481.102564 304.349259 
L 487.503181 295.987055 
L 481.102564 284.83745 
L 478.567088 280.673139 
L 476.069191 265.359223 
L 476.244265 250.045307 
L 477.246771 234.731392 
L 472.105713 219.417476 
z
M 521.498426 234.731392 
L 522.128205 235.859785 
L 522.757985 234.731392 
L 522.128205 233.791063 
z
M 460.589744 340.316811 
L 461.669366 341.928803 
L 461.601889 357.242718 
L 460.589744 358.85471 
L 450.333333 366.914665 
L 450.333333 357.242718 
L 450.333333 341.928803 
L 450.333333 340.943697 
z
" clip-path="url(#p8442b4f16d)" style="fill: #2a778e"/>
   </g>
   <g id="QuadContourSet_48">
    <path d="M 481.102564 219.417476 
L 491.358974 219.417476 
L 501.615385 219.417476 
L 510.89032 219.417476 
L 511.871795 220.707069 
L 512.735493 219.417476 
L 522.128205 219.417476 
L 532.384615 219.417476 
L 542.641026 219.417476 
L 552.897436 219.417476 
L 563.153846 219.417476 
L 573.410256 219.417476 
L 583.666667 219.417476 
L 583.666667 234.731392 
L 583.666667 250.045307 
L 583.666667 265.359223 
L 583.666667 280.673139 
L 583.666667 295.987055 
L 583.666667 311.300971 
L 583.666667 326.614887 
L 583.666667 341.928803 
L 583.666667 357.242718 
L 583.666667 372.556634 
L 573.410256 372.556634 
L 563.288799 372.556634 
L 563.153846 372.502901 
L 552.933423 357.242718 
L 552.897436 356.92032 
L 552.537562 357.242718 
L 552.837457 372.556634 
L 542.641026 372.556634 
L 532.384615 372.556634 
L 522.128205 372.556634 
L 511.871795 372.556634 
L 501.615385 372.556634 
L 496.325236 372.556634 
L 497.8567 357.242718 
L 495.002699 341.928803 
L 491.358974 334.674842 
L 489.228141 326.614887 
L 481.102564 315.893271 
L 477.212749 311.300971 
L 481.102564 306.364248 
L 489.045498 295.987055 
L 481.102564 282.150798 
L 480.202879 280.673139 
L 477.528139 265.359223 
L 477.931174 250.045307 
L 478.789088 234.731392 
L 475.704453 219.417476 
z
M 519.699055 234.731392 
L 522.128205 239.083768 
L 524.557355 234.731392 
L 522.128205 231.104412 
z
M 531.304993 250.045307 
L 532.384615 256.493272 
L 536.703104 250.045307 
L 532.384615 248.755715 
z
M 542.594086 280.673139 
L 542.597841 295.987055 
L 542.641026 296.524385 
L 543.0009 295.987055 
L 542.669437 280.673139 
L 542.641026 280.135809 
z
" clip-path="url(#p8442b4f16d)" style="fill: #25838e"/>
   </g>
   <g id="QuadContourSet_49">
    <path d="M 481.102564 219.417476 
L 491.358974 219.417476 
L 501.615385 219.417476 
L 508.436634 219.417476 
L 511.871795 223.931051 
L 514.894737 219.417476 
L 522.128205 219.417476 
L 532.384615 219.417476 
L 542.641026 219.417476 
L 552.897436 219.417476 
L 563.153846 219.417476 
L 573.410256 219.417476 
L 583.666667 219.417476 
L 583.666667 234.731392 
L 583.666667 250.045307 
L 583.666667 265.359223 
L 583.666667 280.673139 
L 583.666667 295.987055 
L 583.666667 311.300971 
L 583.666667 326.614887 
L 583.666667 341.928803 
L 583.666667 357.242718 
L 583.666667 372.556634 
L 573.410256 372.556634 
L 570.036437 372.556634 
L 563.153846 369.816249 
L 554.732794 357.242718 
L 553.032389 341.928803 
L 553.591479 326.614887 
L 552.897436 325.578607 
L 551.468524 326.614887 
L 542.641026 339.795285 
L 541.426451 341.928803 
L 541.584874 357.242718 
L 542.641026 359.660705 
L 549.838507 372.556634 
L 542.641026 372.556634 
L 532.384615 372.556634 
L 522.128205 372.556634 
L 511.871795 372.556634 
L 501.615385 372.556634 
L 498.48448 372.556634 
L 499.856 357.242718 
L 497.701754 341.928803 
L 491.358974 329.301539 
L 490.648697 326.614887 
L 481.102564 314.018863 
L 478.800429 311.300971 
L 481.102564 308.379237 
L 490.587816 295.987055 
L 489.19973 280.673139 
L 481.102564 277.046159 
L 478.987088 265.359223 
L 479.618084 250.045307 
L 480.331405 234.731392 
L 479.303194 219.417476 
z
M 517.899685 234.731392 
L 522.128205 242.30775 
L 526.356725 234.731392 
L 522.128205 228.41776 
z
M 528.605938 250.045307 
L 530.955704 265.359223 
L 532.384615 267.172713 
L 540.247081 280.673139 
L 540.438596 295.987055 
L 541.584874 311.300971 
L 542.641026 313.434489 
L 543.335068 311.300971 
L 552.897436 297.023335 
L 557.755735 295.987055 
L 552.897436 294.950775 
L 544.089992 280.673139 
L 547.499325 265.359223 
L 543.248313 250.045307 
L 542.641026 242.791347 
L 532.384615 245.531732 
z
" clip-path="url(#p8442b4f16d)" style="fill: #21918c"/>
   </g>
   <g id="QuadContourSet_50">
    <path d="M 491.358974 219.417476 
L 501.615385 219.417476 
L 505.982947 219.417476 
L 511.871795 227.155033 
L 516.100315 234.731392 
L 522.128205 245.531732 
L 525.906883 250.045307 
L 527.780345 265.359223 
L 532.384615 271.202691 
L 537.900076 280.673139 
L 538.279352 295.987055 
L 539.237869 311.300971 
L 542.641026 318.175639 
L 544.877386 311.300971 
L 552.897436 299.32618 
L 563.153846 297.246423 
L 563.864124 295.987055 
L 563.153846 294.835633 
L 552.897436 292.647931 
L 545.510548 280.673139 
L 552.897436 266.702549 
L 555.596491 265.359223 
L 552.897436 264.207801 
L 544.597841 250.045307 
L 543.412184 234.731392 
L 542.641026 233.1194 
L 540.841655 234.731392 
L 532.384615 242.30775 
L 528.156095 234.731392 
L 522.128205 225.731108 
L 517.053981 219.417476 
L 522.128205 219.417476 
L 532.384615 219.417476 
L 542.641026 219.417476 
L 552.897436 219.417476 
L 563.153846 219.417476 
L 573.410256 219.417476 
L 583.666667 219.417476 
L 583.666667 234.731392 
L 583.666667 250.045307 
L 583.666667 265.359223 
L 583.666667 280.673139 
L 583.666667 295.987055 
L 583.666667 311.300971 
L 583.666667 326.614887 
L 583.666667 341.928803 
L 583.666667 357.242718 
L 583.666667 372.556634 
L 574.181415 372.556634 
L 573.410256 371.213308 
L 563.153846 367.129597 
L 556.532164 357.242718 
L 554.960285 341.928803 
L 555.133796 326.614887 
L 552.897436 323.275762 
L 548.293165 326.614887 
L 542.641026 335.054134 
L 538.727395 341.928803 
L 539.237869 357.242718 
L 542.641026 365.034009 
L 546.839556 372.556634 
L 542.641026 372.556634 
L 532.384615 372.556634 
L 522.128205 372.556634 
L 511.871795 372.556634 
L 501.615385 372.556634 
L 500.643725 372.556634 
L 501.615385 360.466701 
L 502.425101 357.242718 
L 501.615385 354.018736 
L 500.40081 341.928803 
L 494.05803 326.614887 
L 491.358974 320.857776 
L 481.102564 312.144455 
L 480.388108 311.300971 
L 481.102564 310.394226 
L 491.358974 301.744166 
L 500.355825 295.987055 
L 498.145171 280.673139 
L 491.358974 270.540623 
L 481.102564 268.986203 
L 480.446037 265.359223 
L 481.102564 253.26929 
L 482.398111 250.045307 
L 484.958357 234.731392 
L 486.500675 219.417476 
z
" clip-path="url(#p8442b4f16d)" style="fill: #1e9d89"/>
   </g>
   <g id="QuadContourSet_51">
    <path d="M 501.615385 219.417476 
L 503.52926 219.417476 
L 501.615385 231.991007 
L 495.600347 219.417476 
z
M 511.871795 230.379015 
L 514.300945 234.731392 
L 511.871795 245.612332 
L 502.762483 234.731392 
z
M 522.128205 219.417476 
L 532.384615 219.417476 
L 542.641026 219.417476 
L 552.897436 219.417476 
L 563.153846 219.417476 
L 573.410256 219.417476 
L 583.666667 219.417476 
L 583.666667 234.731392 
L 583.666667 250.045307 
L 583.666667 265.359223 
L 583.666667 280.673139 
L 583.666667 295.987055 
L 583.666667 311.300971 
L 583.666667 326.614887 
L 583.666667 341.928803 
L 583.666667 357.242718 
L 583.666667 372.556634 
L 575.723732 372.556634 
L 573.410256 368.526656 
L 563.153846 364.442946 
L 558.331534 357.242718 
L 556.888182 341.928803 
L 556.676113 326.614887 
L 552.897436 320.972918 
L 545.117806 326.614887 
L 542.641026 330.312984 
L 536.02834 341.928803 
L 536.890864 357.242718 
L 542.641026 370.407313 
L 543.840606 372.556634 
L 542.641026 372.556634 
L 532.384615 372.556634 
L 522.128205 372.556634 
L 511.871795 372.556634 
L 507.553306 372.556634 
L 509.17274 357.242718 
L 504.584345 341.928803 
L 501.615385 333.062851 
L 499.45614 326.614887 
L 494.417904 311.300971 
L 501.615385 306.695282 
L 505.47711 295.987055 
L 504.584345 280.673139 
L 501.615385 265.896554 
L 501.255511 265.359223 
L 501.615385 263.747232 
L 502.695007 265.359223 
L 511.871795 267.071964 
L 513.707152 265.359223 
L 517.809717 250.045307 
L 522.128205 248.755715 
L 523.207827 250.045307 
L 524.604985 265.359223 
L 532.384615 275.232669 
L 535.553072 280.673139 
L 536.120108 295.987055 
L 536.890864 311.300971 
L 542.641026 322.916789 
L 546.419703 311.300971 
L 552.897436 301.629024 
L 563.153846 299.765159 
L 565.284679 295.987055 
L 563.153846 292.532788 
L 552.897436 290.345086 
L 546.931103 280.673139 
L 552.897436 269.389201 
L 560.994602 265.359223 
L 552.897436 261.904957 
L 545.947368 250.045307 
L 544.954502 234.731392 
L 542.641026 229.895418 
L 537.242915 234.731392 
L 532.384615 239.083768 
L 529.955466 234.731392 
L 522.128205 223.044456 
L 519.213225 219.417476 
z
" clip-path="url(#p8442b4f16d)" style="fill: #23a983"/>
   </g>
   <g id="QuadContourSet_52">
    <path d="M 511.871795 233.602998 
L 512.501574 234.731392 
L 511.871795 237.552376 
L 509.510121 234.731392 
z
M 522.128205 219.417476 
L 528.426001 219.417476 
L 522.128205 220.357804 
L 521.37247 219.417476 
z
M 532.384615 225.32811 
L 533.644175 234.731392 
L 532.384615 235.859785 
L 531.754836 234.731392 
z
M 542.641026 219.417476 
L 552.897436 219.417476 
L 563.153846 219.417476 
L 573.410256 219.417476 
L 583.666667 219.417476 
L 583.666667 234.731392 
L 583.666667 250.045307 
L 583.666667 265.359223 
L 583.666667 280.673139 
L 583.666667 295.987055 
L 583.666667 311.300971 
L 583.666667 326.614887 
L 583.666667 341.928803 
L 583.666667 357.242718 
L 583.666667 372.556634 
L 577.26605 372.556634 
L 573.410256 365.840005 
L 563.153846 361.756294 
L 560.130904 357.242718 
L 558.816079 341.928803 
L 558.218431 326.614887 
L 552.897436 318.670073 
L 547.96202 311.300971 
L 552.897436 303.931869 
L 563.153846 302.283895 
L 566.705235 295.987055 
L 563.153846 290.229944 
L 552.897436 288.042242 
L 548.351658 280.673139 
L 552.897436 272.075853 
L 563.153846 267.293613 
L 564.233468 265.359223 
L 563.153846 263.747232 
L 552.897436 259.602112 
L 547.296896 250.045307 
L 546.496819 234.731392 
L 542.641026 226.671436 
L 533.298142 219.417476 
z
M 511.871795 277.146909 
L 522.128205 268.31454 
L 532.384615 279.262647 
L 533.206067 280.673139 
L 533.960864 295.987055 
L 534.54386 311.300971 
L 541.156545 326.614887 
L 533.329285 341.928803 
L 534.54386 357.242718 
L 532.384615 366.511668 
L 527.418354 357.242718 
L 522.128205 345.95878 
L 511.871795 347.570772 
L 509.982456 341.928803 
L 505.663968 326.614887 
L 508.093117 311.300971 
L 509.629503 295.987055 
L 509.982456 280.673139 
z
" clip-path="url(#p8442b4f16d)" style="fill: #32b67a"/>
   </g>
   <g id="QuadContourSet_53">
    <path d="M 542.641026 219.417476 
L 552.897436 219.417476 
L 563.153846 219.417476 
L 573.410256 219.417476 
L 583.666667 219.417476 
L 583.666667 234.731392 
L 583.666667 250.045307 
L 583.666667 265.359223 
L 583.666667 280.673139 
L 583.666667 295.987055 
L 583.666667 311.300971 
L 583.666667 326.614887 
L 583.666667 341.928803 
L 583.666667 357.242718 
L 583.666667 372.556634 
L 578.808367 372.556634 
L 573.410256 363.153353 
L 563.153846 359.069642 
L 561.930274 357.242718 
L 560.743975 341.928803 
L 559.760748 326.614887 
L 552.897436 316.367229 
L 549.504338 311.300971 
L 552.897436 306.234713 
L 563.153846 304.802632 
L 568.12579 295.987055 
L 563.153846 287.927099 
L 552.897436 285.739397 
L 549.772214 280.673139 
L 552.897436 274.762505 
L 563.153846 270.517595 
L 566.032839 265.359223 
L 563.153846 261.06058 
L 552.897436 257.299268 
L 548.646424 250.045307 
L 548.039136 234.731392 
L 542.641026 223.447454 
L 537.450535 219.417476 
z
M 532.384615 314.524953 
L 534.408907 326.614887 
L 532.384615 331.45086 
L 529.145749 326.614887 
z
" clip-path="url(#p8442b4f16d)" style="fill: #48c16e"/>
   </g>
   <g id="QuadContourSet_54">
    <path d="M 542.641026 219.417476 
L 552.897436 219.417476 
L 563.153846 219.417476 
L 573.410256 219.417476 
L 583.666667 219.417476 
L 583.666667 234.731392 
L 583.666667 250.045307 
L 583.666667 265.359223 
L 583.666667 280.673139 
L 583.666667 295.987055 
L 583.666667 311.300971 
L 583.666667 326.614887 
L 583.666667 341.928803 
L 583.666667 357.242718 
L 583.666667 372.556634 
L 580.350684 372.556634 
L 573.410256 360.466701 
L 565.31309 357.242718 
L 563.153846 348.645432 
L 562.671872 341.928803 
L 561.303065 326.614887 
L 552.897436 314.064384 
L 551.046655 311.300971 
L 552.897436 308.537557 
L 563.153846 307.321368 
L 569.546346 295.987055 
L 563.153846 285.624255 
L 552.897436 283.436553 
L 551.192769 280.673139 
L 552.897436 277.449157 
L 563.153846 273.741577 
L 567.832209 265.359223 
L 563.153846 258.373928 
L 552.897436 254.996423 
L 549.995951 250.045307 
L 549.581454 234.731392 
L 542.641026 220.223471 
L 541.602927 219.417476 
z
" clip-path="url(#p8442b4f16d)" style="fill: #65cb5e"/>
   </g>
   <g id="QuadContourSet_55">
    <path d="M 552.897436 219.417476 
L 563.153846 219.417476 
L 573.410256 219.417476 
L 583.666667 219.417476 
L 583.666667 234.731392 
L 583.666667 250.045307 
L 583.666667 265.359223 
L 583.666667 280.673139 
L 583.666667 295.987055 
L 583.666667 311.300971 
L 583.666667 326.614887 
L 583.666667 341.928803 
L 583.666667 357.242718 
L 583.666667 372.556634 
L 581.893002 372.556634 
L 573.410256 357.780049 
L 572.060729 357.242718 
L 571.251012 341.928803 
L 563.153846 329.838869 
L 562.845383 326.614887 
L 552.897436 311.76154 
L 552.588972 311.300971 
L 552.897436 310.840402 
L 563.153846 309.840104 
L 570.966901 295.987055 
L 563.153846 283.32141 
L 552.897436 281.133708 
L 552.613325 280.673139 
L 552.897436 280.135809 
L 563.153846 276.96556 
L 569.631579 265.359223 
L 563.153846 255.687276 
L 552.897436 252.693579 
L 551.345479 250.045307 
L 551.123771 234.731392 
L 546.689609 219.417476 
z
" clip-path="url(#p8442b4f16d)" style="fill: #84d44b"/>
   </g>
   <g id="QuadContourSet_56">
    <path d="M 552.897436 219.417476 
L 563.153846 219.417476 
L 573.410256 219.417476 
L 583.666667 219.417476 
L 583.666667 234.731392 
L 583.666667 250.045307 
L 583.666667 265.359223 
L 583.666667 280.673139 
L 583.666667 295.987055 
L 583.666667 311.300971 
L 583.666667 326.614887 
L 583.666667 341.928803 
L 583.666667 357.242718 
L 583.666667 372.556634 
L 583.435319 372.556634 
L 577.728745 357.242718 
L 582.047233 341.928803 
L 573.410256 329.032873 
L 571.790823 326.614887 
L 566.932524 311.300971 
L 572.387456 295.987055 
L 563.153846 281.018566 
L 561.534413 280.673139 
L 563.153846 280.189542 
L 571.430949 265.359223 
L 563.153846 253.000625 
L 552.897436 250.390734 
L 552.695007 250.045307 
L 552.666088 234.731392 
L 552.087719 219.417476 
z
" clip-path="url(#p8442b4f16d)" style="fill: #a8db34"/>
   </g>
   <g id="QuadContourSet_57">
    <path d="M 563.153846 219.417476 
L 573.410256 219.417476 
L 583.666667 219.417476 
L 583.666667 234.731392 
L 583.666667 250.045307 
L 583.666667 265.359223 
L 583.666667 280.673139 
L 583.666667 295.987055 
L 583.666667 311.300971 
L 583.666667 326.614887 
L 583.666667 328.226878 
L 582.587045 326.614887 
L 575.569501 311.300971 
L 576.433198 295.987055 
L 573.410256 284.703117 
L 572.330634 280.673139 
L 573.230319 265.359223 
L 563.153846 250.313973 
L 562.074224 250.045307 
L 563.153846 246.01533 
L 564.833258 234.731392 
L 563.153846 223.447454 
L 562.074224 219.417476 
z
M 583.666667 355.630727 
L 583.666667 357.242718 
L 583.666667 358.85471 
L 583.126856 357.242718 
z
" clip-path="url(#p8442b4f16d)" style="fill: #cae11f"/>
   </g>
   <g id="QuadContourSet_58">
    <path d="M 573.410256 226.066939 
L 576.973009 219.417476 
L 583.666667 219.417476 
L 583.666667 234.731392 
L 583.666667 250.045307 
L 583.666667 265.359223 
L 583.666667 280.673139 
L 583.666667 282.688128 
L 583.126856 280.673139 
L 578.808367 265.359223 
L 573.410256 254.996423 
L 570.094274 250.045307 
L 570.831159 234.731392 
z
M 583.666667 309.285982 
L 583.666667 311.300971 
L 583.666667 312.106966 
L 583.281087 311.300971 
z
" clip-path="url(#p8442b4f16d)" style="fill: #efe51c"/>
   </g>
   <g id="matplotlib.axis_9">
    <g id="xtick_10">
     <g id="line2d_66">
      <path d="M 456.234737 372.556634 
L 456.234737 219.417476 
" clip-path="url(#p8442b4f16d)" style="fill: none; stroke: #b0b0b0; stroke-width: 0.65; stroke-linecap: square"/>
     </g>
     <g id="line2d_67">
      <g>
       <use href="#m6048d55edf" x="456.234737" y="372.556634" style="stroke: #000000; stroke-width: 0.65"/>
      </g>
     </g>
     <g id="text_49">
      <text style="font-size: 10px; font-family: 'DejaVu Sans', 'Liberation Sans', sans-serif; text-anchor: middle" x="456.234737" y="385.355072" transform="rotate(-0 456.234737 385.355072)">0.1</text>
     </g>
    </g>
    <g id="xtick_11">
     <g id="line2d_68">
      <path d="M 504.213626 372.556634 
L 504.213626 219.417476 
" clip-path="url(#p8442b4f16d)" style="fill: none; stroke: #b0b0b0; stroke-width: 0.65; stroke-linecap: square"/>
     </g>
     <g id="line2d_69">
      <g>
       <use href="#m6048d55edf" x="504.213626" y="372.556634" style="stroke: #000000; stroke-width: 0.65"/>
      </g>
     </g>
     <g id="text_50">
      <text style="font-size: 10px; font-family: 'DejaVu Sans', 'Liberation Sans', sans-serif; text-anchor: middle" x="504.213626" y="385.355072" transform="rotate(-0 504.213626 385.355072)">0.2</text>
     </g>
    </g>
    <g id="xtick_12">
     <g id="line2d_70">
      <path d="M 552.192515 372.556634 
L 552.192515 219.417476 
" clip-path="url(#p8442b4f16d)" style="fill: none; stroke: #b0b0b0; stroke-width: 0.65; stroke-linecap: square"/>
     </g>
     <g id="line2d_71">
      <g>
       <use href="#m6048d55edf" x="552.192515" y="372.556634" style="stroke: #000000; stroke-width: 0.65"/>
      </g>
     </g>
     <g id="text_51">
      <text style="font-size: 10px; font-family: 'DejaVu Sans', 'Liberation Sans', sans-serif; text-anchor: middle" x="552.192515" y="385.355072" transform="rotate(-0 552.192515 385.355072)">0.3</text>
     </g>
    </g>
    <g id="text_52">
     <text style="font-size: 10px; font-family: 'DejaVu Sans', 'Liberation Sans', sans-serif; text-anchor: middle" x="517" y="398.033197" transform="rotate(-0 517 398.033197)">Broadband albedo of liquid water on ice</text>
    </g>
   </g>
   <g id="matplotlib.axis_10">
    <g id="ytick_30">
     <g id="line2d_72">
      <path d="M 450.333333 368.314752 
L 583.666667 368.314752 
" clip-path="url(#p8442b4f16d)" style="fill: none; stroke: #b0b0b0; stroke-width: 0.65; stroke-linecap: square"/>
     </g>
     <g id="line2d_73">
      <g>
       <use href="#m1bb3ccd156" x="450.333333" y="368.314752" style="stroke: #000000; stroke-width: 0.65"/>
      </g>
     </g>
     <g id="text_53">
      <text style="font-size: 10px; font-family: 'DejaVu Sans', 'Liberation Sans', sans-serif; text-anchor: end" x="445.133333" y="372.11397" transform="rotate(-0 445.133333 372.11397)">0.35</text>
     </g>
    </g>
    <g id="ytick_31">
     <g id="line2d_74">
      <path d="M 450.333333 332.366592 
L 583.666667 332.366592 
" clip-path="url(#p8442b4f16d)" style="fill: none; stroke: #b0b0b0; stroke-width: 0.65; stroke-linecap: square"/>
     </g>
     <g id="line2d_75">
      <g>
       <use href="#m1bb3ccd156" x="450.333333" y="332.366592" style="stroke: #000000; stroke-width: 0.65"/>
      </g>
     </g>
     <g id="text_54">
      <text style="font-size: 10px; font-family: 'DejaVu Sans', 'Liberation Sans', sans-serif; text-anchor: end" x="445.133333" y="336.165811" transform="rotate(-0 445.133333 336.165811)">0.40</text>
     </g>
    </g>
    <g id="ytick_32">
     <g id="line2d_76">
      <path d="M 450.333333 296.418433 
L 583.666667 296.418433 
" clip-path="url(#p8442b4f16d)" style="fill: none; stroke: #b0b0b0; stroke-width: 0.65; stroke-linecap: square"/>
     </g>
     <g id="line2d_77">
      <g>
       <use href="#m1bb3ccd156" x="450.333333" y="296.418433" style="stroke: #000000; stroke-width: 0.65"/>
      </g>
     </g>
     <g id="text_55">
      <text style="font-size: 10px; font-family: 'DejaVu Sans', 'Liberation Sans', sans-serif; text-anchor: end" x="445.133333" y="300.217652" transform="rotate(-0 445.133333 300.217652)">0.45</text>
     </g>
    </g>
    <g id="ytick_33">
     <g id="line2d_78">
      <path d="M 450.333333 260.470274 
L 583.666667 260.470274 
" clip-path="url(#p8442b4f16d)" style="fill: none; stroke: #b0b0b0; stroke-width: 0.65; stroke-linecap: square"/>
     </g>
     <g id="line2d_79">
      <g>
       <use href="#m1bb3ccd156" x="450.333333" y="260.470274" style="stroke: #000000; stroke-width: 0.65"/>
      </g>
     </g>
     <g id="text_56">
      <text style="font-size: 10px; font-family: 'DejaVu Sans', 'Liberation Sans', sans-serif; text-anchor: end" x="445.133333" y="264.269492" transform="rotate(-0 445.133333 264.269492)">0.50</text>
     </g>
    </g>
    <g id="ytick_34">
     <g id="line2d_80">
      <path d="M 450.333333 224.522114 
L 583.666667 224.522114 
" clip-path="url(#p8442b4f16d)" style="fill: none; stroke: #b0b0b0; stroke-width: 0.65; stroke-linecap: square"/>
     </g>
     <g id="line2d_81">
      <g>
       <use href="#m1bb3ccd156" x="450.333333" y="224.522114" style="stroke: #000000; stroke-width: 0.65"/>
      </g>
     </g>
     <g id="text_57">
      <text style="font-size: 10px; font-family: 'DejaVu Sans', 'Liberation Sans', sans-serif; text-anchor: end" x="445.133333" y="228.321333" transform="rotate(-0 445.133333 228.321333)">0.55</text>
     </g>
    </g>
    <g id="text_58">
     <text style="font-size: 10px; font-family: 'DejaVu Sans', 'Liberation Sans', sans-serif; text-anchor: middle" x="418.788021" y="295.987055" transform="rotate(-90 418.788021 295.987055)">Broadband albedo of refrozen ice</text>
    </g>
   </g>
   <g id="patch_63">
    <path d="M 450.333333 372.556634 
L 450.333333 219.417476 
" style="fill: none; stroke: #000000; stroke-width: 0.85; stroke-linejoin: miter; stroke-linecap: square"/>
   </g>
   <g id="patch_64">
    <path d="M 583.666667 372.556634 
L 583.666667 219.417476 
" style="fill: none; stroke: #000000; stroke-width: 0.85; stroke-linejoin: miter; stroke-linecap: square"/>
   </g>
   <g id="patch_65">
    <path d="M 450.333333 372.556634 
L 583.666667 372.556634 
" style="fill: none; stroke: #000000; stroke-width: 0.85; stroke-linejoin: miter; stroke-linecap: square"/>
   </g>
   <g id="patch_66">
    <path d="M 450.333333 219.417476 
L 583.666667 219.417476 
" style="fill: none; stroke: #000000; stroke-width: 0.85; stroke-linejoin: miter; stroke-linecap: square"/>
   </g>
   <g id="text_59">
    <text style="font-size: 10px; font-family: 'DejaVu Sans', 'Liberation Sans', sans-serif; text-anchor: middle" x="517" y="215.117476" transform="rotate(-0 517 215.117476)">(c) 2022-07-03 - 2022-07-10</text>
   </g>
  </g>
  <g id="axes_6">
   <g id="patch_67">
    <path d="M 591.333333 372.556634 
L 599.466667 372.556634 
L 599.466667 219.417476 
L 591.333333 219.417476 
z
" style="fill: #ffffff"/>
   </g>
   <g id="patch_68">
    <path d="M 591.333333 372.556634 
L 599.466667 372.556634 
L 599.466667 219.417476 
L 591.333333 219.417476 
z
" clip-path="url(#p6ab00ce679)" style="fill: #460a5d"/>
   </g>
   <g id="patch_69">
    <path d="M 591.333333 364.496679 
L 599.466667 364.496679 
L 599.466667 219.417476 
L 591.333333 219.417476 
z
" clip-path="url(#p6ab00ce679)" style="fill: #481d6f"/>
   </g>
   <g id="patch_70">
    <path d="M 591.333333 356.436723 
L 599.466667 356.436723 
L 599.466667 219.417476 
L 591.333333 219.417476 
z
" clip-path="url(#p6ab00ce679)" style="fill: #472e7c"/>
   </g>
   <g id="patch_71">
    <path d="M 591.333333 348.376767 
L 599.466667 348.376767 
L 599.466667 219.417476 
L 591.333333 219.417476 
z
" clip-path="url(#p6ab00ce679)" style="fill: #423f85"/>
   </g>
   <g id="patch_72">
    <path d="M 591.333333 340.316811 
L 599.466667 340.316811 
L 599.466667 219.417476 
L 591.333333 219.417476 
z
" clip-path="url(#p6ab00ce679)" style="fill: #3d4e8a"/>
   </g>
   <g id="patch_73">
    <path d="M 591.333333 332.256856 
L 599.466667 332.256856 
L 599.466667 219.417476 
L 591.333333 219.417476 
z
" clip-path="url(#p6ab00ce679)" style="fill: #365d8d"/>
   </g>
   <g id="patch_74">
    <path d="M 591.333333 324.1969 
L 599.466667 324.1969 
L 599.466667 219.417476 
L 591.333333 219.417476 
z
" clip-path="url(#p6ab00ce679)" style="fill: #306a8e"/>
   </g>
   <g id="patch_75">
    <path d="M 591.333333 316.136944 
L 599.466667 316.136944 
L 599.466667 219.417476 
L 591.333333 219.417476 
z
" clip-path="url(#p6ab00ce679)" style="fill: #2a778e"/>
   </g>
   <g id="patch_76">
    <path d="M 591.333333 308.076989 
L 599.466667 308.076989 
L 599.466667 219.417476 
L 591.333333 219.417476 
z
" clip-path="url(#p6ab00ce679)" style="fill: #25838e"/>
   </g>
   <g id="patch_77">
    <path d="M 591.333333 300.017033 
L 599.466667 300.017033 
L 599.466667 219.417476 
L 591.333333 219.417476 
z
" clip-path="url(#p6ab00ce679)" style="fill: #21918c"/>
   </g>
   <g id="patch_78">
    <path d="M 591.333333 291.957077 
L 599.466667 291.957077 
L 599.466667 219.417476 
L 591.333333 219.417476 
z
" clip-path="url(#p6ab00ce679)" style="fill: #1e9d89"/>
   </g>
   <g id="patch_79">
    <path d="M 591.333333 283.897121 
L 599.466667 283.897121 
L 599.466667 219.417476 
L 591.333333 219.417476 
z
" clip-path="url(#p6ab00ce679)" style="fill: #23a983"/>
   </g>
   <g id="patch_80">
    <path d="M 591.333333 275.837166 
L 599.466667 275.837166 
L 599.466667 219.417476 
L 591.333333 219.417476 
z
" clip-path="url(#p6ab00ce679)" style="fill: #32b67a"/>
   </g>
   <g id="patch_81">
    <path d="M 591.333333 267.77721 
L 599.466667 267.77721 
L 599.466667 219.417476 
L 591.333333 219.417476 
z
" clip-path="url(#p6ab00ce679)" style="fill: #48c16e"/>
   </g>
   <g id="patch_82">
    <path d="M 591.333333 259.717254 
L 599.466667 259.717254 
L 599.466667 219.417476 
L 591.333333 219.417476 
z
" clip-path="url(#p6ab00ce679)" style="fill: #65cb5e"/>
   </g>
   <g id="patch_83">
    <path d="M 591.333333 251.657299 
L 599.466667 251.657299 
L 599.466667 219.417476 
L 591.333333 219.417476 
z
" clip-path="url(#p6ab00ce679)" style="fill: #84d44b"/>
   </g>
   <g id="patch_84">
    <path d="M 591.333333 243.597343 
L 599.466667 243.597343 
L 599.466667 219.417476 
L 591.333333 219.417476 
z
" clip-path="url(#p6ab00ce679)" style="fill: #a8db34"/>
   </g>
   <g id="patch_85">
    <path d="M 591.333333 235.537387 
L 599.466667 235.537387 
L 599.466667 219.417476 
L 591.333333 219.417476 
z
" clip-path="url(#p6ab00ce679)" style="fill: #cae11f"/>
   </g>
   <g id="patch_86">
    <path d="M 591.333333 227.477431 
L 599.466667 227.477431 
L 599.466667 219.417476 
L 591.333333 219.417476 
z
" clip-path="url(#p6ab00ce679)" style="fill: #efe51c"/>
   </g>
   <g id="matplotlib.axis_11"/>
   <g id="matplotlib.axis_12">
    <g id="ytick_35">
     <g id="line2d_82">
      <g>
       <use href="#m32840a8728" x="599.466667" y="364.496679" style="stroke: #000000; stroke-width: 0.65"/>
      </g>
     </g>
     <g id="text_60">
      <text style="font-size: 10px; font-family: 'DejaVu Sans', 'Liberation Sans', sans-serif; text-anchor: start" x="604.666667" y="368.295897" transform="rotate(-0 604.666667 368.295897)">−2.75</text>
     </g>
    </g>
    <g id="ytick_36">
     <g id="line2d_83">
      <g>
       <use href="#m32840a8728" x="599.466667" y="348.376767" style="stroke: #000000; stroke-width: 0.65"/>
      </g>
     </g>
     <g id="text_61">
      <text style="font-size: 10px; font-family: 'DejaVu Sans', 'Liberation Sans', sans-serif; text-anchor: start" x="604.666667" y="352.175986" transform="rotate(-0 604.666667 352.175986)">−2.70</text>
     </g>
    </g>
    <g id="ytick_37">
     <g id="line2d_84">
      <g>
       <use href="#m32840a8728" x="599.466667" y="332.256856" style="stroke: #000000; stroke-width: 0.65"/>
      </g>
     </g>
     <g id="text_62">
      <text style="font-size: 10px; font-family: 'DejaVu Sans', 'Liberation Sans', sans-serif; text-anchor: start" x="604.666667" y="336.056074" transform="rotate(-0 604.666667 336.056074)">−2.65</text>
     </g>
    </g>
    <g id="ytick_38">
     <g id="line2d_85">
      <g>
       <use href="#m32840a8728" x="599.466667" y="316.136944" style="stroke: #000000; stroke-width: 0.65"/>
      </g>
     </g>
     <g id="text_63">
      <text style="font-size: 10px; font-family: 'DejaVu Sans', 'Liberation Sans', sans-serif; text-anchor: start" x="604.666667" y="319.936163" transform="rotate(-0 604.666667 319.936163)">−2.60</text>
     </g>
    </g>
    <g id="ytick_39">
     <g id="line2d_86">
      <g>
       <use href="#m32840a8728" x="599.466667" y="300.017033" style="stroke: #000000; stroke-width: 0.65"/>
      </g>
     </g>
     <g id="text_64">
      <text style="font-size: 10px; font-family: 'DejaVu Sans', 'Liberation Sans', sans-serif; text-anchor: start" x="604.666667" y="303.816252" transform="rotate(-0 604.666667 303.816252)">−2.55</text>
     </g>
    </g>
    <g id="ytick_40">
     <g id="line2d_87">
      <g>
       <use href="#m32840a8728" x="599.466667" y="283.897121" style="stroke: #000000; stroke-width: 0.65"/>
      </g>
     </g>
     <g id="text_65">
      <text style="font-size: 10px; font-family: 'DejaVu Sans', 'Liberation Sans', sans-serif; text-anchor: start" x="604.666667" y="287.69634" transform="rotate(-0 604.666667 287.69634)">−2.50</text>
     </g>
    </g>
    <g id="ytick_41">
     <g id="line2d_88">
      <g>
       <use href="#m32840a8728" x="599.466667" y="267.77721" style="stroke: #000000; stroke-width: 0.65"/>
      </g>
     </g>
     <g id="text_66">
      <text style="font-size: 10px; font-family: 'DejaVu Sans', 'Liberation Sans', sans-serif; text-anchor: start" x="604.666667" y="271.576429" transform="rotate(-0 604.666667 271.576429)">−2.45</text>
     </g>
    </g>
    <g id="ytick_42">
     <g id="line2d_89">
      <g>
       <use href="#m32840a8728" x="599.466667" y="251.657299" style="stroke: #000000; stroke-width: 0.65"/>
      </g>
     </g>
     <g id="text_67">
      <text style="font-size: 10px; font-family: 'DejaVu Sans', 'Liberation Sans', sans-serif; text-anchor: start" x="604.666667" y="255.456517" transform="rotate(-0 604.666667 255.456517)">−2.40</text>
     </g>
    </g>
    <g id="ytick_43">
     <g id="line2d_90">
      <g>
       <use href="#m32840a8728" x="599.466667" y="235.537387" style="stroke: #000000; stroke-width: 0.65"/>
      </g>
     </g>
     <g id="text_68">
      <text style="font-size: 10px; font-family: 'DejaVu Sans', 'Liberation Sans', sans-serif; text-anchor: start" x="604.666667" y="239.336606" transform="rotate(-0 604.666667 239.336606)">−2.35</text>
     </g>
    </g>
    <g id="ytick_44">
     <g id="line2d_91">
      <g>
       <use href="#m32840a8728" x="599.466667" y="219.417476" style="stroke: #000000; stroke-width: 0.65"/>
      </g>
     </g>
     <g id="text_69">
      <text style="font-size: 10px; font-family: 'DejaVu Sans', 'Liberation Sans', sans-serif; text-anchor: start" x="604.666667" y="223.216694" transform="rotate(-0 604.666667 223.216694)">−2.30</text>
     </g>
    </g>
    <g id="text_70">
     <text style="font-size: 10px; font-family: 'DejaVu Sans', 'Liberation Sans', sans-serif; text-anchor: middle" x="645.910417" y="295.987055" transform="rotate(-90 645.910417 295.987055)">Mass balance (m w.e.)</text>
    </g>
   </g>
   <g id="LineCollection_3"/>
   <g id="patch_87">
    <path d="M 591.333333 372.556634 
L 595.4 372.556634 
L 599.466667 372.556634 
L 599.466667 219.417476 
L 595.4 219.417476 
L 591.333333 219.417476 
L 591.333333 372.556634 
z
" style="fill: none; stroke: #000000; stroke-width: 0.85; stroke-linejoin: miter; stroke-linecap: square"/>
   </g>
  </g>
 </g>
 <defs>
  <clipPath id="p54d6a485ec">
   <rect x="53.333333" y="18.381877" width="266" height="354.174757"/>
  </clipPath>
  <clipPath id="pbba16efab5">
   <rect x="336" y="18.381877" width="18.933333" height="354.174757"/>
  </clipPath>
  <clipPath id="p58fcbd00df">
   <rect x="450.333333" y="18.640777" width="133.333333" height="153.139159"/>
  </clipPath>
  <clipPath id="pe10b2d5279">
   <rect x="591.333333" y="18.640777" width="8.133333" height="153.139159"/>
  </clipPath>
  <clipPath id="p8442b4f16d">
   <rect x="450.333333" y="219.417476" width="133.333333" height="153.139159"/>
  </clipPath>
  <clipPath id="p6ab00ce679">
   <rect x="591.333333" y="219.417476" width="8.133333" height="153.139159"/>
  </clipPath>
 </defs>
</svg>

</body></html>
